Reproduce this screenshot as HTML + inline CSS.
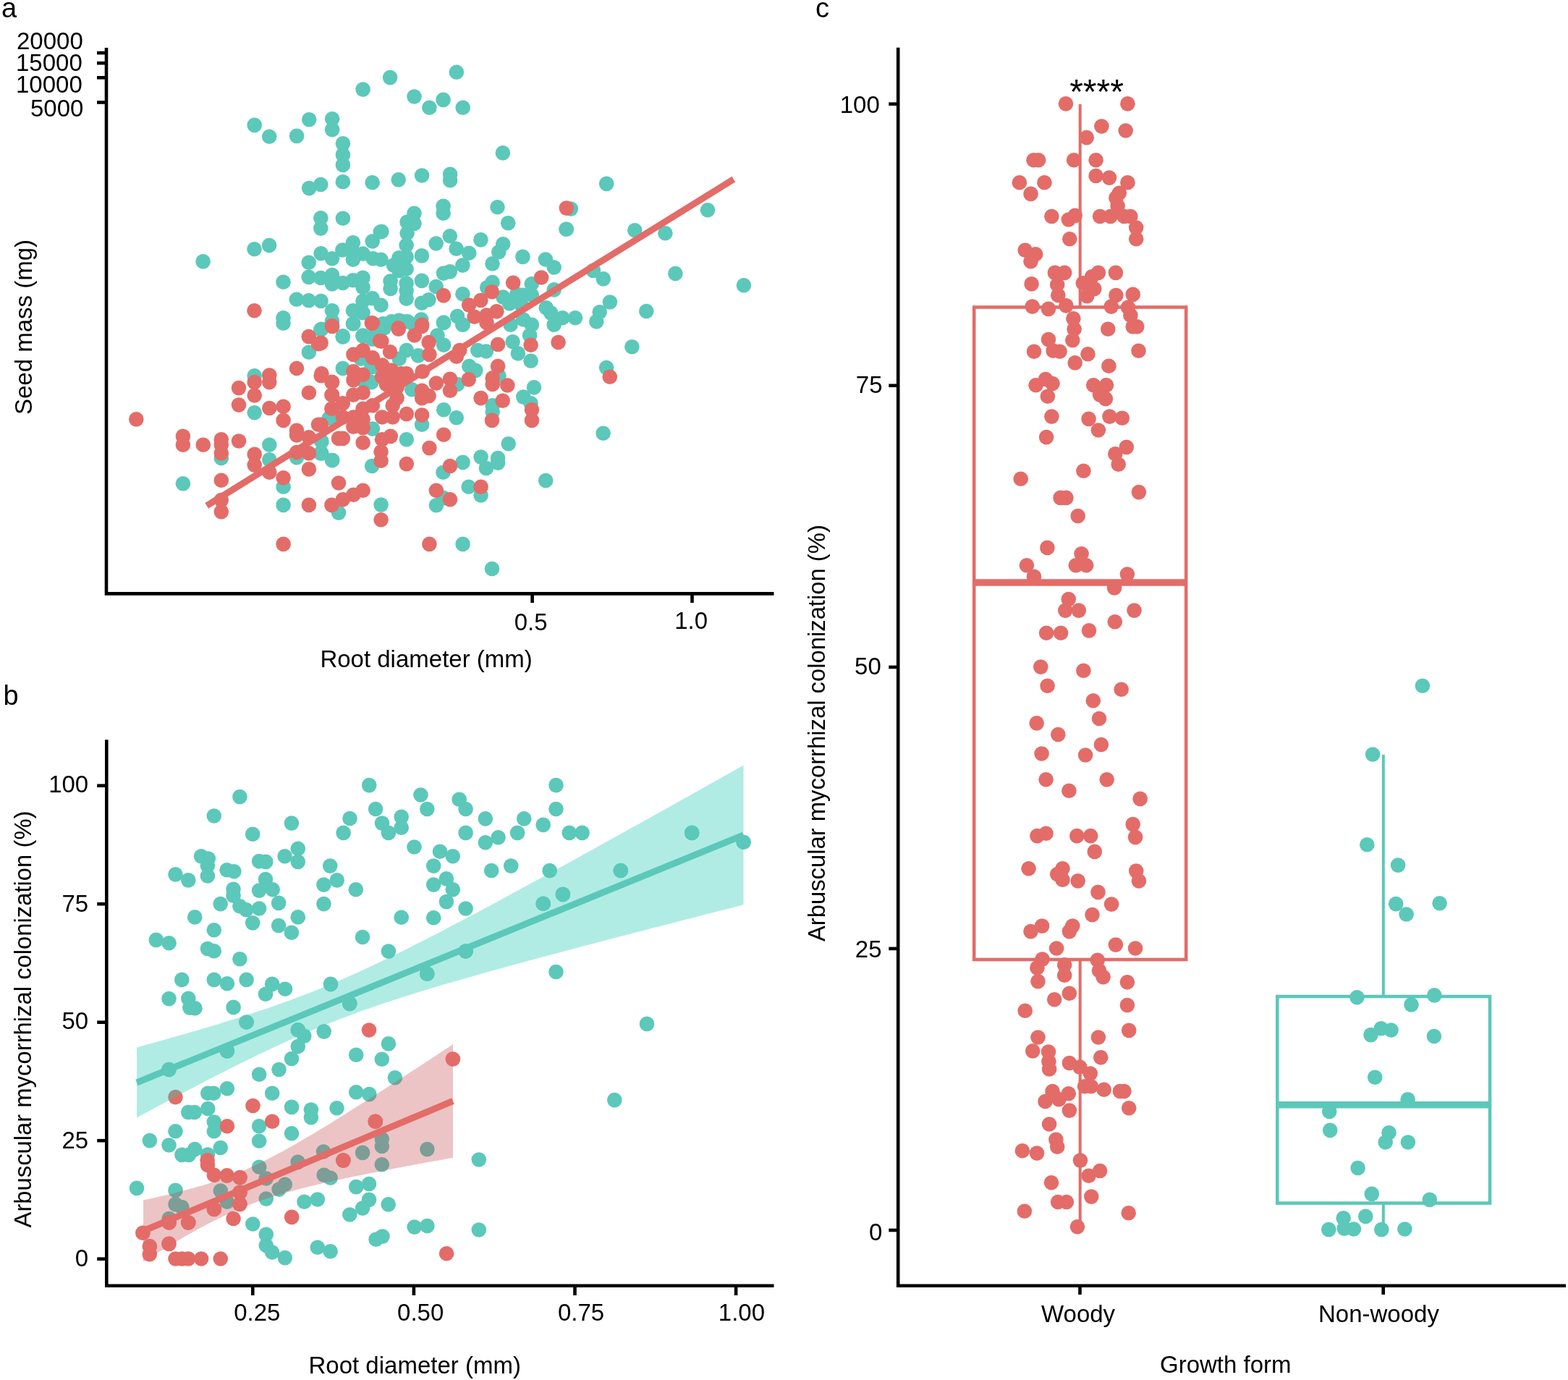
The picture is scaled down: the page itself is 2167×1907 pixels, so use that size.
<!DOCTYPE html>
<html><head><meta charset="utf-8"><title>Figure</title>
<style>html,body{margin:0;padding:0;background:#fff;overflow:hidden}svg{display:block}</style>
</head><body>
<svg width="2167" height="1907" viewBox="0 0 2167 1907">
<rect width="2167" height="1907" fill="#ffffff"/>
<circle cx="630.9" cy="99.8" r="10.3" fill="#5bc8ba"/>
<circle cx="539.1" cy="107.1" r="10.3" fill="#5bc8ba"/>
<circle cx="501.6" cy="123.6" r="10.3" fill="#5bc8ba"/>
<circle cx="572.5" cy="133.5" r="10.3" fill="#5bc8ba"/>
<circle cx="593.4" cy="148.7" r="10.3" fill="#5bc8ba"/>
<circle cx="612.6" cy="137.9" r="10.3" fill="#5bc8ba"/>
<circle cx="639.7" cy="148.7" r="10.3" fill="#5bc8ba"/>
<circle cx="351.7" cy="172.9" r="10.3" fill="#5bc8ba"/>
<circle cx="372.2" cy="188.8" r="10.3" fill="#5bc8ba"/>
<circle cx="410.1" cy="187.9" r="10.3" fill="#5bc8ba"/>
<circle cx="427.2" cy="165.2" r="10.3" fill="#5bc8ba"/>
<circle cx="459.1" cy="164.3" r="10.3" fill="#5bc8ba"/>
<circle cx="459.1" cy="179.1" r="10.3" fill="#5bc8ba"/>
<circle cx="473.9" cy="198.4" r="10.3" fill="#5bc8ba"/>
<circle cx="473.9" cy="213.9" r="10.3" fill="#5bc8ba"/>
<circle cx="473.9" cy="227.9" r="10.3" fill="#5bc8ba"/>
<circle cx="427.2" cy="260.1" r="10.3" fill="#5bc8ba"/>
<circle cx="443.3" cy="255.0" r="10.3" fill="#5bc8ba"/>
<circle cx="473.9" cy="251.3" r="10.3" fill="#5bc8ba"/>
<circle cx="514.6" cy="252.2" r="10.3" fill="#5bc8ba"/>
<circle cx="550.7" cy="248.4" r="10.3" fill="#5bc8ba"/>
<circle cx="583.1" cy="242.5" r="10.3" fill="#5bc8ba"/>
<circle cx="622.1" cy="240.7" r="10.3" fill="#5bc8ba"/>
<circle cx="622.1" cy="249.1" r="10.3" fill="#5bc8ba"/>
<circle cx="443.3" cy="301.3" r="10.3" fill="#5bc8ba"/>
<circle cx="443.3" cy="315.6" r="10.3" fill="#5bc8ba"/>
<circle cx="473.9" cy="301.7" r="10.3" fill="#5bc8ba"/>
<circle cx="612.6" cy="284.7" r="10.3" fill="#5bc8ba"/>
<circle cx="612.6" cy="294.7" r="10.3" fill="#5bc8ba"/>
<circle cx="572.5" cy="294.7" r="10.3" fill="#5bc8ba"/>
<circle cx="562.6" cy="306.8" r="10.3" fill="#5bc8ba"/>
<circle cx="572.5" cy="309.0" r="10.3" fill="#5bc8ba"/>
<circle cx="562.6" cy="322.2" r="10.3" fill="#5bc8ba"/>
<circle cx="527.4" cy="320.0" r="10.3" fill="#5bc8ba"/>
<circle cx="694.9" cy="211.4" r="10.3" fill="#5bc8ba"/>
<circle cx="838.2" cy="253.9" r="10.3" fill="#5bc8ba"/>
<circle cx="687.5" cy="286.2" r="10.3" fill="#5bc8ba"/>
<circle cx="702.2" cy="308.3" r="10.3" fill="#5bc8ba"/>
<circle cx="788.8" cy="288.6" r="10.3" fill="#5bc8ba"/>
<circle cx="782.8" cy="316.7" r="10.3" fill="#5bc8ba"/>
<circle cx="978.0" cy="290.2" r="10.3" fill="#5bc8ba"/>
<circle cx="877.3" cy="318.3" r="10.3" fill="#5bc8ba"/>
<circle cx="919.4" cy="322.3" r="10.3" fill="#5bc8ba"/>
<circle cx="280.6" cy="361.4" r="10.3" fill="#5bc8ba"/>
<circle cx="351.5" cy="344.3" r="10.3" fill="#5bc8ba"/>
<circle cx="372.1" cy="339.0" r="10.3" fill="#5bc8ba"/>
<circle cx="391.5" cy="389.8" r="10.3" fill="#5bc8ba"/>
<circle cx="426.7" cy="362.8" r="10.3" fill="#5bc8ba"/>
<circle cx="443.6" cy="350.3" r="10.3" fill="#5bc8ba"/>
<circle cx="459.0" cy="357.2" r="10.3" fill="#5bc8ba"/>
<circle cx="473.4" cy="345.5" r="10.3" fill="#5bc8ba"/>
<circle cx="487.9" cy="335.2" r="10.3" fill="#5bc8ba"/>
<circle cx="487.9" cy="348.4" r="10.3" fill="#5bc8ba"/>
<circle cx="487.9" cy="358.7" r="10.3" fill="#5bc8ba"/>
<circle cx="501.5" cy="350.6" r="10.3" fill="#5bc8ba"/>
<circle cx="514.7" cy="333.5" r="10.3" fill="#5bc8ba"/>
<circle cx="515.5" cy="357.2" r="10.3" fill="#5bc8ba"/>
<circle cx="526.5" cy="358.7" r="10.3" fill="#5bc8ba"/>
<circle cx="525.8" cy="320.5" r="10.3" fill="#5bc8ba"/>
<circle cx="426.7" cy="382.9" r="10.3" fill="#5bc8ba"/>
<circle cx="443.3" cy="384.0" r="10.3" fill="#5bc8ba"/>
<circle cx="459.0" cy="380.0" r="10.3" fill="#5bc8ba"/>
<circle cx="459.0" cy="392.5" r="10.3" fill="#5bc8ba"/>
<circle cx="473.7" cy="391.0" r="10.3" fill="#5bc8ba"/>
<circle cx="487.9" cy="387.3" r="10.3" fill="#5bc8ba"/>
<circle cx="501.5" cy="383.7" r="10.3" fill="#5bc8ba"/>
<circle cx="501.5" cy="396.9" r="10.3" fill="#5bc8ba"/>
<circle cx="409.8" cy="413.8" r="10.3" fill="#5bc8ba"/>
<circle cx="426.7" cy="415.2" r="10.3" fill="#5bc8ba"/>
<circle cx="443.6" cy="416.0" r="10.3" fill="#5bc8ba"/>
<circle cx="459.0" cy="429.2" r="10.3" fill="#5bc8ba"/>
<circle cx="501.5" cy="416.0" r="10.3" fill="#5bc8ba"/>
<circle cx="514.7" cy="412.3" r="10.3" fill="#5bc8ba"/>
<circle cx="526.5" cy="421.8" r="10.3" fill="#5bc8ba"/>
<circle cx="487.9" cy="429.2" r="10.3" fill="#5bc8ba"/>
<circle cx="501.5" cy="432.1" r="10.3" fill="#5bc8ba"/>
<circle cx="487.9" cy="447.5" r="10.3" fill="#5bc8ba"/>
<circle cx="391.5" cy="439.4" r="10.3" fill="#5bc8ba"/>
<circle cx="391.5" cy="446.8" r="10.3" fill="#5bc8ba"/>
<circle cx="459.0" cy="443.8" r="10.3" fill="#5bc8ba"/>
<circle cx="443.3" cy="455.6" r="10.3" fill="#5bc8ba"/>
<circle cx="473.7" cy="464.4" r="10.3" fill="#5bc8ba"/>
<circle cx="501.5" cy="464.4" r="10.3" fill="#5bc8ba"/>
<circle cx="514.7" cy="468.8" r="10.3" fill="#5bc8ba"/>
<circle cx="561.6" cy="338.7" r="10.3" fill="#5bc8ba"/>
<circle cx="561.6" cy="354.9" r="10.3" fill="#5bc8ba"/>
<circle cx="551.4" cy="356.3" r="10.3" fill="#5bc8ba"/>
<circle cx="544.0" cy="366.6" r="10.3" fill="#5bc8ba"/>
<circle cx="561.6" cy="371.7" r="10.3" fill="#5bc8ba"/>
<circle cx="551.4" cy="373.9" r="10.3" fill="#5bc8ba"/>
<circle cx="582.9" cy="353.4" r="10.3" fill="#5bc8ba"/>
<circle cx="602.7" cy="336.5" r="10.3" fill="#5bc8ba"/>
<circle cx="621.8" cy="326.2" r="10.3" fill="#5bc8ba"/>
<circle cx="630.6" cy="343.8" r="10.3" fill="#5bc8ba"/>
<circle cx="648.2" cy="349.7" r="10.3" fill="#5bc8ba"/>
<circle cx="639.4" cy="366.6" r="10.3" fill="#5bc8ba"/>
<circle cx="664.4" cy="331.4" r="10.3" fill="#5bc8ba"/>
<circle cx="695.2" cy="337.2" r="10.3" fill="#5bc8ba"/>
<circle cx="689.3" cy="348.3" r="10.3" fill="#5bc8ba"/>
<circle cx="680.5" cy="364.4" r="10.3" fill="#5bc8ba"/>
<circle cx="722.4" cy="354.9" r="10.3" fill="#5bc8ba"/>
<circle cx="782.5" cy="316.7" r="10.3" fill="#5bc8ba"/>
<circle cx="753.9" cy="358.5" r="10.3" fill="#5bc8ba"/>
<circle cx="765.7" cy="369.5" r="10.3" fill="#5bc8ba"/>
<circle cx="539.6" cy="388.6" r="10.3" fill="#5bc8ba"/>
<circle cx="539.6" cy="398.9" r="10.3" fill="#5bc8ba"/>
<circle cx="561.6" cy="391.6" r="10.3" fill="#5bc8ba"/>
<circle cx="561.6" cy="401.8" r="10.3" fill="#5bc8ba"/>
<circle cx="561.6" cy="412.8" r="10.3" fill="#5bc8ba"/>
<circle cx="582.9" cy="387.9" r="10.3" fill="#5bc8ba"/>
<circle cx="613.0" cy="377.6" r="10.3" fill="#5bc8ba"/>
<circle cx="621.8" cy="375.4" r="10.3" fill="#5bc8ba"/>
<circle cx="602.7" cy="396.0" r="10.3" fill="#5bc8ba"/>
<circle cx="639.4" cy="406.2" r="10.3" fill="#5bc8ba"/>
<circle cx="592.5" cy="414.3" r="10.3" fill="#5bc8ba"/>
<circle cx="582.9" cy="418.7" r="10.3" fill="#5bc8ba"/>
<circle cx="680.5" cy="390.1" r="10.3" fill="#5bc8ba"/>
<circle cx="673.2" cy="397.4" r="10.3" fill="#5bc8ba"/>
<circle cx="695.2" cy="410.6" r="10.3" fill="#5bc8ba"/>
<circle cx="714.3" cy="406.2" r="10.3" fill="#5bc8ba"/>
<circle cx="734.8" cy="392.3" r="10.3" fill="#5bc8ba"/>
<circle cx="723.1" cy="407.7" r="10.3" fill="#5bc8ba"/>
<circle cx="704.0" cy="419.4" r="10.3" fill="#5bc8ba"/>
<circle cx="720.2" cy="420.9" r="10.3" fill="#5bc8ba"/>
<circle cx="734.8" cy="407.7" r="10.3" fill="#5bc8ba"/>
<circle cx="765.7" cy="400.4" r="10.3" fill="#5bc8ba"/>
<circle cx="754.7" cy="425.3" r="10.3" fill="#5bc8ba"/>
<circle cx="761.3" cy="432.6" r="10.3" fill="#5bc8ba"/>
<circle cx="777.4" cy="439.3" r="10.3" fill="#5bc8ba"/>
<circle cx="795.0" cy="439.3" r="10.3" fill="#5bc8ba"/>
<circle cx="765.7" cy="448.8" r="10.3" fill="#5bc8ba"/>
<circle cx="734.8" cy="448.8" r="10.3" fill="#5bc8ba"/>
<circle cx="723.1" cy="441.5" r="10.3" fill="#5bc8ba"/>
<circle cx="705.5" cy="448.8" r="10.3" fill="#5bc8ba"/>
<circle cx="632.1" cy="437.1" r="10.3" fill="#5bc8ba"/>
<circle cx="639.4" cy="448.8" r="10.3" fill="#5bc8ba"/>
<circle cx="613.0" cy="445.9" r="10.3" fill="#5bc8ba"/>
<circle cx="529.4" cy="447.3" r="10.3" fill="#5bc8ba"/>
<circle cx="541.1" cy="444.4" r="10.3" fill="#5bc8ba"/>
<circle cx="551.4" cy="442.9" r="10.3" fill="#5bc8ba"/>
<circle cx="563.1" cy="444.4" r="10.3" fill="#5bc8ba"/>
<circle cx="582.2" cy="441.5" r="10.3" fill="#5bc8ba"/>
<circle cx="819.9" cy="373.9" r="10.3" fill="#5bc8ba"/>
<circle cx="833.8" cy="385.4" r="10.3" fill="#5bc8ba"/>
<circle cx="933.4" cy="378.0" r="10.3" fill="#5bc8ba"/>
<circle cx="1027.9" cy="394.2" r="10.3" fill="#5bc8ba"/>
<circle cx="842.9" cy="417.5" r="10.3" fill="#5bc8ba"/>
<circle cx="828.7" cy="431.2" r="10.3" fill="#5bc8ba"/>
<circle cx="824.3" cy="444.4" r="10.3" fill="#5bc8ba"/>
<circle cx="893.3" cy="430.0" r="10.3" fill="#5bc8ba"/>
<circle cx="426.9" cy="486.7" r="10.3" fill="#5bc8ba"/>
<circle cx="351.7" cy="519.3" r="10.3" fill="#5bc8ba"/>
<circle cx="351.7" cy="570.3" r="10.3" fill="#5bc8ba"/>
<circle cx="457.7" cy="576.5" r="10.3" fill="#5bc8ba"/>
<circle cx="443.7" cy="608.8" r="10.3" fill="#5bc8ba"/>
<circle cx="372.3" cy="614.7" r="10.3" fill="#5bc8ba"/>
<circle cx="444.4" cy="454.7" r="10.3" fill="#5bc8ba"/>
<circle cx="473.8" cy="465.7" r="10.3" fill="#5bc8ba"/>
<circle cx="488.4" cy="447.3" r="10.3" fill="#5bc8ba"/>
<circle cx="501.6" cy="463.5" r="10.3" fill="#5bc8ba"/>
<circle cx="519.3" cy="459.1" r="10.3" fill="#5bc8ba"/>
<circle cx="531.0" cy="453.2" r="10.3" fill="#5bc8ba"/>
<circle cx="557.4" cy="444.4" r="10.3" fill="#5bc8ba"/>
<circle cx="572.1" cy="448.8" r="10.3" fill="#5bc8ba"/>
<circle cx="604.4" cy="463.5" r="10.3" fill="#5bc8ba"/>
<circle cx="613.2" cy="445.9" r="10.3" fill="#5bc8ba"/>
<circle cx="639.6" cy="448.8" r="10.3" fill="#5bc8ba"/>
<circle cx="613.2" cy="476.7" r="10.3" fill="#5bc8ba"/>
<circle cx="660.2" cy="484.0" r="10.3" fill="#5bc8ba"/>
<circle cx="671.9" cy="485.5" r="10.3" fill="#5bc8ba"/>
<circle cx="708.6" cy="472.3" r="10.3" fill="#5bc8ba"/>
<circle cx="715.9" cy="488.4" r="10.3" fill="#5bc8ba"/>
<circle cx="732.1" cy="463.5" r="10.3" fill="#5bc8ba"/>
<circle cx="733.6" cy="498.7" r="10.3" fill="#5bc8ba"/>
<circle cx="473.8" cy="509.0" r="10.3" fill="#5bc8ba"/>
<circle cx="498.7" cy="495.8" r="10.3" fill="#5bc8ba"/>
<circle cx="513.4" cy="507.5" r="10.3" fill="#5bc8ba"/>
<circle cx="578.0" cy="491.4" r="10.3" fill="#5bc8ba"/>
<circle cx="561.8" cy="484.0" r="10.3" fill="#5bc8ba"/>
<circle cx="551.6" cy="495.8" r="10.3" fill="#5bc8ba"/>
<circle cx="501.6" cy="525.1" r="10.3" fill="#5bc8ba"/>
<circle cx="513.4" cy="528.1" r="10.3" fill="#5bc8ba"/>
<circle cx="569.2" cy="538.3" r="10.3" fill="#5bc8ba"/>
<circle cx="632.3" cy="531.0" r="10.3" fill="#5bc8ba"/>
<circle cx="648.4" cy="506.1" r="10.3" fill="#5bc8ba"/>
<circle cx="657.2" cy="511.9" r="10.3" fill="#5bc8ba"/>
<circle cx="689.5" cy="519.3" r="10.3" fill="#5bc8ba"/>
<circle cx="680.7" cy="560.4" r="10.3" fill="#5bc8ba"/>
<circle cx="680.7" cy="569.2" r="10.3" fill="#5bc8ba"/>
<circle cx="613.2" cy="566.2" r="10.3" fill="#5bc8ba"/>
<circle cx="630.8" cy="577.2" r="10.3" fill="#5bc8ba"/>
<circle cx="583.1" cy="586.8" r="10.3" fill="#5bc8ba"/>
<circle cx="561.8" cy="607.3" r="10.3" fill="#5bc8ba"/>
<circle cx="702.7" cy="613.2" r="10.3" fill="#5bc8ba"/>
<circle cx="723.3" cy="548.6" r="10.3" fill="#5bc8ba"/>
<circle cx="733.6" cy="557.4" r="10.3" fill="#5bc8ba"/>
<circle cx="738.0" cy="535.4" r="10.3" fill="#5bc8ba"/>
<circle cx="454.7" cy="578.0" r="10.3" fill="#5bc8ba"/>
<circle cx="514.9" cy="592.6" r="10.3" fill="#5bc8ba"/>
<circle cx="444.4" cy="610.3" r="10.3" fill="#5bc8ba"/>
<circle cx="873.4" cy="479.2" r="10.3" fill="#5bc8ba"/>
<circle cx="838.1" cy="508.0" r="10.3" fill="#5bc8ba"/>
<circle cx="833.6" cy="598.8" r="10.3" fill="#5bc8ba"/>
<circle cx="305.8" cy="633.0" r="10.3" fill="#5bc8ba"/>
<circle cx="372.3" cy="635.2" r="10.3" fill="#5bc8ba"/>
<circle cx="410.0" cy="632.3" r="10.3" fill="#5bc8ba"/>
<circle cx="443.0" cy="626.4" r="10.3" fill="#5bc8ba"/>
<circle cx="459.2" cy="636.0" r="10.3" fill="#5bc8ba"/>
<circle cx="391.6" cy="672.7" r="10.3" fill="#5bc8ba"/>
<circle cx="252.9" cy="668.3" r="10.3" fill="#5bc8ba"/>
<circle cx="391.6" cy="697.9" r="10.3" fill="#5bc8ba"/>
<circle cx="468.0" cy="708.6" r="10.3" fill="#5bc8ba"/>
<circle cx="444.4" cy="626.4" r="10.3" fill="#5bc8ba"/>
<circle cx="459.1" cy="636.0" r="10.3" fill="#5bc8ba"/>
<circle cx="514.1" cy="644.0" r="10.3" fill="#5bc8ba"/>
<circle cx="612.5" cy="652.8" r="10.3" fill="#5bc8ba"/>
<circle cx="639.6" cy="638.9" r="10.3" fill="#5bc8ba"/>
<circle cx="664.6" cy="631.6" r="10.3" fill="#5bc8ba"/>
<circle cx="688.1" cy="633.0" r="10.3" fill="#5bc8ba"/>
<circle cx="671.9" cy="647.0" r="10.3" fill="#5bc8ba"/>
<circle cx="688.1" cy="639.6" r="10.3" fill="#5bc8ba"/>
<circle cx="526.6" cy="697.6" r="10.3" fill="#5bc8ba"/>
<circle cx="602.9" cy="698.3" r="10.3" fill="#5bc8ba"/>
<circle cx="613.2" cy="688.1" r="10.3" fill="#5bc8ba"/>
<circle cx="647.7" cy="672.7" r="10.3" fill="#5bc8ba"/>
<circle cx="664.6" cy="684.4" r="10.3" fill="#5bc8ba"/>
<circle cx="639.6" cy="751.9" r="10.3" fill="#5bc8ba"/>
<circle cx="680.0" cy="786.0" r="10.3" fill="#5bc8ba"/>
<circle cx="754.2" cy="664.0" r="10.3" fill="#5bc8ba"/>
<circle cx="782.8" cy="287.6" r="10.3" fill="#e36c68"/>
<circle cx="351.5" cy="429.2" r="10.3" fill="#e36c68"/>
<circle cx="459.0" cy="450.4" r="10.3" fill="#e36c68"/>
<circle cx="426.7" cy="465.1" r="10.3" fill="#e36c68"/>
<circle cx="443.6" cy="473.9" r="10.3" fill="#e36c68"/>
<circle cx="514.7" cy="446.5" r="10.3" fill="#e36c68"/>
<circle cx="525.0" cy="471.0" r="10.3" fill="#e36c68"/>
<circle cx="613.0" cy="408.4" r="10.3" fill="#e36c68"/>
<circle cx="679.8" cy="403.3" r="10.3" fill="#e36c68"/>
<circle cx="664.4" cy="415.0" r="10.3" fill="#e36c68"/>
<circle cx="648.2" cy="421.6" r="10.3" fill="#e36c68"/>
<circle cx="686.4" cy="430.4" r="10.3" fill="#e36c68"/>
<circle cx="672.5" cy="435.6" r="10.3" fill="#e36c68"/>
<circle cx="655.6" cy="437.8" r="10.3" fill="#e36c68"/>
<circle cx="672.5" cy="445.9" r="10.3" fill="#e36c68"/>
<circle cx="709.2" cy="390.8" r="10.3" fill="#e36c68"/>
<circle cx="748.1" cy="383.5" r="10.3" fill="#e36c68"/>
<circle cx="513.9" cy="446.6" r="10.3" fill="#e36c68"/>
<circle cx="550.6" cy="453.2" r="10.3" fill="#e36c68"/>
<circle cx="582.9" cy="451.0" r="10.3" fill="#e36c68"/>
<circle cx="410.0" cy="509.0" r="10.3" fill="#e36c68"/>
<circle cx="443.7" cy="519.3" r="10.3" fill="#e36c68"/>
<circle cx="458.4" cy="528.1" r="10.3" fill="#e36c68"/>
<circle cx="458.4" cy="545.7" r="10.3" fill="#e36c68"/>
<circle cx="426.9" cy="542.7" r="10.3" fill="#e36c68"/>
<circle cx="330.0" cy="536.1" r="10.3" fill="#e36c68"/>
<circle cx="351.7" cy="528.1" r="10.3" fill="#e36c68"/>
<circle cx="372.3" cy="518.5" r="10.3" fill="#e36c68"/>
<circle cx="372.3" cy="528.1" r="10.3" fill="#e36c68"/>
<circle cx="351.7" cy="546.4" r="10.3" fill="#e36c68"/>
<circle cx="330.0" cy="559.6" r="10.3" fill="#e36c68"/>
<circle cx="372.3" cy="564.0" r="10.3" fill="#e36c68"/>
<circle cx="391.6" cy="561.8" r="10.3" fill="#e36c68"/>
<circle cx="391.6" cy="580.9" r="10.3" fill="#e36c68"/>
<circle cx="458.4" cy="564.8" r="10.3" fill="#e36c68"/>
<circle cx="443.7" cy="586.8" r="10.3" fill="#e36c68"/>
<circle cx="410.0" cy="594.9" r="10.3" fill="#e36c68"/>
<circle cx="410.0" cy="601.5" r="10.3" fill="#e36c68"/>
<circle cx="426.9" cy="604.4" r="10.3" fill="#e36c68"/>
<circle cx="188.3" cy="579.4" r="10.3" fill="#e36c68"/>
<circle cx="252.9" cy="602.9" r="10.3" fill="#e36c68"/>
<circle cx="252.9" cy="614.7" r="10.3" fill="#e36c68"/>
<circle cx="280.8" cy="614.7" r="10.3" fill="#e36c68"/>
<circle cx="305.8" cy="607.3" r="10.3" fill="#e36c68"/>
<circle cx="305.8" cy="614.7" r="10.3" fill="#e36c68"/>
<circle cx="330.0" cy="609.5" r="10.3" fill="#e36c68"/>
<circle cx="459.1" cy="451.0" r="10.3" fill="#e36c68"/>
<circle cx="514.1" cy="446.6" r="10.3" fill="#e36c68"/>
<circle cx="550.8" cy="454.7" r="10.3" fill="#e36c68"/>
<circle cx="583.1" cy="448.8" r="10.3" fill="#e36c68"/>
<circle cx="572.8" cy="463.5" r="10.3" fill="#e36c68"/>
<circle cx="592.6" cy="473.0" r="10.3" fill="#e36c68"/>
<circle cx="527.3" cy="471.6" r="10.3" fill="#e36c68"/>
<circle cx="539.1" cy="486.2" r="10.3" fill="#e36c68"/>
<circle cx="593.4" cy="489.9" r="10.3" fill="#e36c68"/>
<circle cx="440.0" cy="475.2" r="10.3" fill="#e36c68"/>
<circle cx="733.6" cy="476.7" r="10.3" fill="#e36c68"/>
<circle cx="688.1" cy="476.0" r="10.3" fill="#e36c68"/>
<circle cx="635.2" cy="484.0" r="10.3" fill="#e36c68"/>
<circle cx="630.8" cy="492.8" r="10.3" fill="#e36c68"/>
<circle cx="488.4" cy="489.9" r="10.3" fill="#e36c68"/>
<circle cx="501.6" cy="484.0" r="10.3" fill="#e36c68"/>
<circle cx="514.9" cy="494.3" r="10.3" fill="#e36c68"/>
<circle cx="528.1" cy="504.6" r="10.3" fill="#e36c68"/>
<circle cx="541.3" cy="511.9" r="10.3" fill="#e36c68"/>
<circle cx="561.8" cy="516.3" r="10.3" fill="#e36c68"/>
<circle cx="583.8" cy="513.4" r="10.3" fill="#e36c68"/>
<circle cx="533.9" cy="522.2" r="10.3" fill="#e36c68"/>
<circle cx="545.7" cy="528.1" r="10.3" fill="#e36c68"/>
<circle cx="528.1" cy="520.7" r="10.3" fill="#e36c68"/>
<circle cx="542.7" cy="522.2" r="10.3" fill="#e36c68"/>
<circle cx="554.5" cy="516.3" r="10.3" fill="#e36c68"/>
<circle cx="533.9" cy="531.0" r="10.3" fill="#e36c68"/>
<circle cx="548.6" cy="535.4" r="10.3" fill="#e36c68"/>
<circle cx="548.6" cy="550.1" r="10.3" fill="#e36c68"/>
<circle cx="488.4" cy="513.4" r="10.3" fill="#e36c68"/>
<circle cx="501.6" cy="517.8" r="10.3" fill="#e36c68"/>
<circle cx="488.4" cy="525.1" r="10.3" fill="#e36c68"/>
<circle cx="444.4" cy="516.3" r="10.3" fill="#e36c68"/>
<circle cx="459.1" cy="528.1" r="10.3" fill="#e36c68"/>
<circle cx="459.1" cy="545.7" r="10.3" fill="#e36c68"/>
<circle cx="583.1" cy="539.8" r="10.3" fill="#e36c68"/>
<circle cx="592.6" cy="547.1" r="10.3" fill="#e36c68"/>
<circle cx="583.1" cy="550.1" r="10.3" fill="#e36c68"/>
<circle cx="602.9" cy="529.5" r="10.3" fill="#e36c68"/>
<circle cx="622.0" cy="523.7" r="10.3" fill="#e36c68"/>
<circle cx="622.0" cy="539.8" r="10.3" fill="#e36c68"/>
<circle cx="647.7" cy="524.4" r="10.3" fill="#e36c68"/>
<circle cx="688.1" cy="506.1" r="10.3" fill="#e36c68"/>
<circle cx="680.7" cy="522.2" r="10.3" fill="#e36c68"/>
<circle cx="680.7" cy="531.0" r="10.3" fill="#e36c68"/>
<circle cx="701.3" cy="532.5" r="10.3" fill="#e36c68"/>
<circle cx="664.6" cy="550.1" r="10.3" fill="#e36c68"/>
<circle cx="694.7" cy="553.8" r="10.3" fill="#e36c68"/>
<circle cx="680.0" cy="580.9" r="10.3" fill="#e36c68"/>
<circle cx="583.1" cy="573.6" r="10.3" fill="#e36c68"/>
<circle cx="613.2" cy="600.7" r="10.3" fill="#e36c68"/>
<circle cx="593.4" cy="619.1" r="10.3" fill="#e36c68"/>
<circle cx="735.0" cy="566.2" r="10.3" fill="#e36c68"/>
<circle cx="735.0" cy="580.9" r="10.3" fill="#e36c68"/>
<circle cx="459.1" cy="564.8" r="10.3" fill="#e36c68"/>
<circle cx="473.8" cy="557.4" r="10.3" fill="#e36c68"/>
<circle cx="488.4" cy="545.7" r="10.3" fill="#e36c68"/>
<circle cx="501.6" cy="542.7" r="10.3" fill="#e36c68"/>
<circle cx="514.9" cy="560.4" r="10.3" fill="#e36c68"/>
<circle cx="501.6" cy="564.8" r="10.3" fill="#e36c68"/>
<circle cx="473.8" cy="576.5" r="10.3" fill="#e36c68"/>
<circle cx="488.4" cy="576.5" r="10.3" fill="#e36c68"/>
<circle cx="501.6" cy="579.4" r="10.3" fill="#e36c68"/>
<circle cx="488.4" cy="589.7" r="10.3" fill="#e36c68"/>
<circle cx="501.6" cy="591.2" r="10.3" fill="#e36c68"/>
<circle cx="473.8" cy="605.9" r="10.3" fill="#e36c68"/>
<circle cx="501.6" cy="611.7" r="10.3" fill="#e36c68"/>
<circle cx="528.1" cy="607.3" r="10.3" fill="#e36c68"/>
<circle cx="539.8" cy="602.9" r="10.3" fill="#e36c68"/>
<circle cx="528.1" cy="576.5" r="10.3" fill="#e36c68"/>
<circle cx="542.7" cy="576.5" r="10.3" fill="#e36c68"/>
<circle cx="561.8" cy="572.1" r="10.3" fill="#e36c68"/>
<circle cx="542.7" cy="560.4" r="10.3" fill="#e36c68"/>
<circle cx="440.0" cy="586.8" r="10.3" fill="#e36c68"/>
<circle cx="771.6" cy="473.0" r="10.3" fill="#e36c68"/>
<circle cx="842.8" cy="520.7" r="10.3" fill="#e36c68"/>
<circle cx="305.8" cy="626.4" r="10.3" fill="#e36c68"/>
<circle cx="351.7" cy="627.9" r="10.3" fill="#e36c68"/>
<circle cx="351.7" cy="642.6" r="10.3" fill="#e36c68"/>
<circle cx="410.0" cy="625.0" r="10.3" fill="#e36c68"/>
<circle cx="426.9" cy="626.4" r="10.3" fill="#e36c68"/>
<circle cx="426.9" cy="648.4" r="10.3" fill="#e36c68"/>
<circle cx="372.3" cy="652.8" r="10.3" fill="#e36c68"/>
<circle cx="391.6" cy="660.2" r="10.3" fill="#e36c68"/>
<circle cx="305.8" cy="663.8" r="10.3" fill="#e36c68"/>
<circle cx="305.8" cy="691.0" r="10.3" fill="#e36c68"/>
<circle cx="305.8" cy="707.1" r="10.3" fill="#e36c68"/>
<circle cx="426.9" cy="697.9" r="10.3" fill="#e36c68"/>
<circle cx="458.4" cy="697.9" r="10.3" fill="#e36c68"/>
<circle cx="468.0" cy="667.5" r="10.3" fill="#e36c68"/>
<circle cx="468.0" cy="605.9" r="10.3" fill="#e36c68"/>
<circle cx="391.6" cy="751.9" r="10.3" fill="#e36c68"/>
<circle cx="526.6" cy="624.2" r="10.3" fill="#e36c68"/>
<circle cx="526.6" cy="636.7" r="10.3" fill="#e36c68"/>
<circle cx="561.8" cy="641.1" r="10.3" fill="#e36c68"/>
<circle cx="622.0" cy="644.0" r="10.3" fill="#e36c68"/>
<circle cx="501.6" cy="677.8" r="10.3" fill="#e36c68"/>
<circle cx="488.4" cy="683.7" r="10.3" fill="#e36c68"/>
<circle cx="473.8" cy="690.3" r="10.3" fill="#e36c68"/>
<circle cx="526.6" cy="718.2" r="10.3" fill="#e36c68"/>
<circle cx="602.9" cy="677.8" r="10.3" fill="#e36c68"/>
<circle cx="622.0" cy="690.3" r="10.3" fill="#e36c68"/>
<circle cx="664.6" cy="672.7" r="10.3" fill="#e36c68"/>
<circle cx="593.4" cy="751.9" r="10.3" fill="#e36c68"/>
<line x1="285.7" y1="698.8" x2="1013.9" y2="247.7" stroke="#e36c68" stroke-width="9"/>
<g stroke="#000" stroke-width="4.6" fill="none">
<path d="M147,66 V822.2 M144.8,820.4 H1069.5"/>
<path d="M134,73.1 H147"/>
<path d="M134,87.2 H147"/>
<path d="M134,107.3 H147"/>
<path d="M134,141.5 H147"/>
<path d="M735.6,820 V833"/>
<path d="M956.5,820 V833"/>
</g>
<g font-family="Liberation Sans, Arial, sans-serif" font-size="33" fill="#000">
<text x="23" y="68.3">20000</text>
<text x="22" y="97.7">15000</text>
<text x="22" y="128">10000</text>
<text x="42" y="160.8">5000</text>
<text x="733.6" y="871.2" text-anchor="middle">0.5</text>
<text x="955.1" y="868.7" text-anchor="middle">1.0</text>
<text x="442.4" y="921.7">Root diameter (mm)</text>
<text transform="translate(43.8,573) rotate(-90)">Seed mass (mg)</text>
<text x="2.1" y="23.5" font-size="38">a</text>
</g>
<circle cx="331.4" cy="1101.1" r="10.3" fill="#5bc8ba"/>
<circle cx="295.8" cy="1127.5" r="10.3" fill="#5bc8ba"/>
<circle cx="402.9" cy="1137.6" r="10.3" fill="#5bc8ba"/>
<circle cx="483.5" cy="1131.0" r="10.3" fill="#5bc8ba"/>
<circle cx="474.6" cy="1150.9" r="10.3" fill="#5bc8ba"/>
<circle cx="349.2" cy="1152.7" r="10.3" fill="#5bc8ba"/>
<circle cx="278.0" cy="1183.3" r="10.3" fill="#5bc8ba"/>
<circle cx="287.8" cy="1186.5" r="10.3" fill="#5bc8ba"/>
<circle cx="286.9" cy="1196.3" r="10.3" fill="#5bc8ba"/>
<circle cx="286.9" cy="1210.5" r="10.3" fill="#5bc8ba"/>
<circle cx="242.5" cy="1208.4" r="10.3" fill="#5bc8ba"/>
<circle cx="260.3" cy="1216.4" r="10.3" fill="#5bc8ba"/>
<circle cx="313.6" cy="1202.2" r="10.3" fill="#5bc8ba"/>
<circle cx="323.4" cy="1204.3" r="10.3" fill="#5bc8ba"/>
<circle cx="358.1" cy="1190.1" r="10.3" fill="#5bc8ba"/>
<circle cx="367.3" cy="1190.9" r="10.3" fill="#5bc8ba"/>
<circle cx="393.6" cy="1183.3" r="10.3" fill="#5bc8ba"/>
<circle cx="411.8" cy="1172.8" r="10.3" fill="#5bc8ba"/>
<circle cx="411.8" cy="1190.9" r="10.3" fill="#5bc8ba"/>
<circle cx="456.2" cy="1196.6" r="10.3" fill="#5bc8ba"/>
<circle cx="367.0" cy="1215.0" r="10.3" fill="#5bc8ba"/>
<circle cx="358.1" cy="1230.6" r="10.3" fill="#5bc8ba"/>
<circle cx="376.7" cy="1229.2" r="10.3" fill="#5bc8ba"/>
<circle cx="322.5" cy="1228.8" r="10.3" fill="#5bc8ba"/>
<circle cx="322.5" cy="1237.7" r="10.3" fill="#5bc8ba"/>
<circle cx="447.4" cy="1222.6" r="10.3" fill="#5bc8ba"/>
<circle cx="465.7" cy="1216.4" r="10.3" fill="#5bc8ba"/>
<circle cx="304.7" cy="1249.1" r="10.3" fill="#5bc8ba"/>
<circle cx="331.4" cy="1252.3" r="10.3" fill="#5bc8ba"/>
<circle cx="340.3" cy="1257.3" r="10.3" fill="#5bc8ba"/>
<circle cx="358.1" cy="1255.5" r="10.3" fill="#5bc8ba"/>
<circle cx="385.1" cy="1247.9" r="10.3" fill="#5bc8ba"/>
<circle cx="447.4" cy="1249.1" r="10.3" fill="#5bc8ba"/>
<circle cx="269.2" cy="1267.4" r="10.3" fill="#5bc8ba"/>
<circle cx="411.8" cy="1267.4" r="10.3" fill="#5bc8ba"/>
<circle cx="349.2" cy="1275.4" r="10.3" fill="#5bc8ba"/>
<circle cx="295.8" cy="1285.2" r="10.3" fill="#5bc8ba"/>
<circle cx="385.1" cy="1279.0" r="10.3" fill="#5bc8ba"/>
<circle cx="402.9" cy="1288.8" r="10.3" fill="#5bc8ba"/>
<circle cx="215.8" cy="1298.9" r="10.3" fill="#5bc8ba"/>
<circle cx="233.6" cy="1303.3" r="10.3" fill="#5bc8ba"/>
<circle cx="286.9" cy="1311.0" r="10.3" fill="#5bc8ba"/>
<circle cx="295.8" cy="1314.2" r="10.3" fill="#5bc8ba"/>
<circle cx="331.4" cy="1325.2" r="10.3" fill="#5bc8ba"/>
<circle cx="501.0" cy="1295.0" r="10.3" fill="#5bc8ba"/>
<circle cx="510.2" cy="1085.1" r="10.3" fill="#5bc8ba"/>
<circle cx="519.1" cy="1118.0" r="10.3" fill="#5bc8ba"/>
<circle cx="581.4" cy="1098.5" r="10.3" fill="#5bc8ba"/>
<circle cx="590.3" cy="1118.0" r="10.3" fill="#5bc8ba"/>
<circle cx="528.0" cy="1137.6" r="10.3" fill="#5bc8ba"/>
<circle cx="536.9" cy="1150.9" r="10.3" fill="#5bc8ba"/>
<circle cx="554.7" cy="1128.7" r="10.3" fill="#5bc8ba"/>
<circle cx="554.7" cy="1143.8" r="10.3" fill="#5bc8ba"/>
<circle cx="634.7" cy="1104.7" r="10.3" fill="#5bc8ba"/>
<circle cx="643.6" cy="1118.0" r="10.3" fill="#5bc8ba"/>
<circle cx="670.8" cy="1131.4" r="10.3" fill="#5bc8ba"/>
<circle cx="643.6" cy="1150.9" r="10.3" fill="#5bc8ba"/>
<circle cx="670.8" cy="1164.3" r="10.3" fill="#5bc8ba"/>
<circle cx="688.6" cy="1157.2" r="10.3" fill="#5bc8ba"/>
<circle cx="715.1" cy="1150.9" r="10.3" fill="#5bc8ba"/>
<circle cx="724.2" cy="1131.4" r="10.3" fill="#5bc8ba"/>
<circle cx="750.7" cy="1139.9" r="10.3" fill="#5bc8ba"/>
<circle cx="768.5" cy="1085.1" r="10.3" fill="#5bc8ba"/>
<circle cx="768.5" cy="1118.0" r="10.3" fill="#5bc8ba"/>
<circle cx="786.8" cy="1150.9" r="10.3" fill="#5bc8ba"/>
<circle cx="804.6" cy="1150.9" r="10.3" fill="#5bc8ba"/>
<circle cx="572.5" cy="1170.5" r="10.3" fill="#5bc8ba"/>
<circle cx="608.0" cy="1176.7" r="10.3" fill="#5bc8ba"/>
<circle cx="625.8" cy="1183.3" r="10.3" fill="#5bc8ba"/>
<circle cx="599.2" cy="1196.6" r="10.3" fill="#5bc8ba"/>
<circle cx="679.2" cy="1203.0" r="10.3" fill="#5bc8ba"/>
<circle cx="706.2" cy="1196.6" r="10.3" fill="#5bc8ba"/>
<circle cx="759.6" cy="1203.0" r="10.3" fill="#5bc8ba"/>
<circle cx="616.9" cy="1214.4" r="10.3" fill="#5bc8ba"/>
<circle cx="599.2" cy="1222.6" r="10.3" fill="#5bc8ba"/>
<circle cx="625.8" cy="1229.2" r="10.3" fill="#5bc8ba"/>
<circle cx="616.9" cy="1246.1" r="10.3" fill="#5bc8ba"/>
<circle cx="643.6" cy="1255.5" r="10.3" fill="#5bc8ba"/>
<circle cx="554.7" cy="1267.8" r="10.3" fill="#5bc8ba"/>
<circle cx="599.2" cy="1268.3" r="10.3" fill="#5bc8ba"/>
<circle cx="750.7" cy="1248.7" r="10.3" fill="#5bc8ba"/>
<circle cx="777.9" cy="1235.9" r="10.3" fill="#5bc8ba"/>
<circle cx="536.9" cy="1314.5" r="10.3" fill="#5bc8ba"/>
<circle cx="643.6" cy="1314.5" r="10.3" fill="#5bc8ba"/>
<circle cx="590.3" cy="1345.7" r="10.3" fill="#5bc8ba"/>
<circle cx="768.5" cy="1343.0" r="10.3" fill="#5bc8ba"/>
<circle cx="956.2" cy="1150.9" r="10.3" fill="#5bc8ba"/>
<circle cx="857.8" cy="1203.0" r="10.3" fill="#5bc8ba"/>
<circle cx="1027.7" cy="1163.7" r="10.3" fill="#5bc8ba"/>
<circle cx="251.3" cy="1353.9" r="10.3" fill="#5bc8ba"/>
<circle cx="295.8" cy="1353.9" r="10.3" fill="#5bc8ba"/>
<circle cx="313.9" cy="1359.2" r="10.3" fill="#5bc8ba"/>
<circle cx="340.6" cy="1353.9" r="10.3" fill="#5bc8ba"/>
<circle cx="376.2" cy="1359.9" r="10.3" fill="#5bc8ba"/>
<circle cx="367.0" cy="1373.8" r="10.3" fill="#5bc8ba"/>
<circle cx="394.0" cy="1366.7" r="10.3" fill="#5bc8ba"/>
<circle cx="233.5" cy="1380.1" r="10.3" fill="#5bc8ba"/>
<circle cx="260.3" cy="1379.8" r="10.3" fill="#5bc8ba"/>
<circle cx="262.4" cy="1392.6" r="10.3" fill="#5bc8ba"/>
<circle cx="269.5" cy="1393.3" r="10.3" fill="#5bc8ba"/>
<circle cx="322.6" cy="1391.9" r="10.3" fill="#5bc8ba"/>
<circle cx="340.6" cy="1412.5" r="10.3" fill="#5bc8ba"/>
<circle cx="411.8" cy="1423.2" r="10.3" fill="#5bc8ba"/>
<circle cx="420.3" cy="1431.7" r="10.3" fill="#5bc8ba"/>
<circle cx="411.8" cy="1446.0" r="10.3" fill="#5bc8ba"/>
<circle cx="403.0" cy="1463.0" r="10.3" fill="#5bc8ba"/>
<circle cx="385.5" cy="1478.0" r="10.3" fill="#5bc8ba"/>
<circle cx="358.1" cy="1484.8" r="10.3" fill="#5bc8ba"/>
<circle cx="313.9" cy="1452.4" r="10.3" fill="#5bc8ba"/>
<circle cx="233.5" cy="1478.0" r="10.3" fill="#5bc8ba"/>
<circle cx="287.3" cy="1510.7" r="10.3" fill="#5bc8ba"/>
<circle cx="295.1" cy="1510.7" r="10.3" fill="#5bc8ba"/>
<circle cx="313.9" cy="1504.3" r="10.3" fill="#5bc8ba"/>
<circle cx="376.2" cy="1510.7" r="10.3" fill="#5bc8ba"/>
<circle cx="403.0" cy="1529.9" r="10.3" fill="#5bc8ba"/>
<circle cx="287.3" cy="1532.0" r="10.3" fill="#5bc8ba"/>
<circle cx="260.3" cy="1537.0" r="10.3" fill="#5bc8ba"/>
<circle cx="268.8" cy="1537.0" r="10.3" fill="#5bc8ba"/>
<circle cx="295.8" cy="1550.5" r="10.3" fill="#5bc8ba"/>
<circle cx="295.8" cy="1563.3" r="10.3" fill="#5bc8ba"/>
<circle cx="358.1" cy="1556.2" r="10.3" fill="#5bc8ba"/>
<circle cx="242.5" cy="1563.3" r="10.3" fill="#5bc8ba"/>
<circle cx="403.0" cy="1566.2" r="10.3" fill="#5bc8ba"/>
<circle cx="206.9" cy="1576.1" r="10.3" fill="#5bc8ba"/>
<circle cx="233.5" cy="1582.5" r="10.3" fill="#5bc8ba"/>
<circle cx="358.1" cy="1576.8" r="10.3" fill="#5bc8ba"/>
<circle cx="251.4" cy="1595.9" r="10.3" fill="#5bc8ba"/>
<circle cx="261.0" cy="1595.9" r="10.3" fill="#5bc8ba"/>
<circle cx="269.2" cy="1588.1" r="10.3" fill="#5bc8ba"/>
<circle cx="287.0" cy="1595.6" r="10.3" fill="#5bc8ba"/>
<circle cx="304.8" cy="1586.0" r="10.3" fill="#5bc8ba"/>
<circle cx="189.0" cy="1641.9" r="10.3" fill="#5bc8ba"/>
<circle cx="242.5" cy="1644.9" r="10.3" fill="#5bc8ba"/>
<circle cx="242.5" cy="1664.1" r="10.3" fill="#5bc8ba"/>
<circle cx="251.4" cy="1668.2" r="10.3" fill="#5bc8ba"/>
<circle cx="304.8" cy="1645.6" r="10.3" fill="#5bc8ba"/>
<circle cx="313.7" cy="1660.7" r="10.3" fill="#5bc8ba"/>
<circle cx="358.2" cy="1612.7" r="10.3" fill="#5bc8ba"/>
<circle cx="367.8" cy="1628.5" r="10.3" fill="#5bc8ba"/>
<circle cx="411.6" cy="1605.9" r="10.3" fill="#5bc8ba"/>
<circle cx="393.8" cy="1636.7" r="10.3" fill="#5bc8ba"/>
<circle cx="385.6" cy="1643.6" r="10.3" fill="#5bc8ba"/>
<circle cx="367.8" cy="1656.6" r="10.3" fill="#5bc8ba"/>
<circle cx="420.5" cy="1660.7" r="10.3" fill="#5bc8ba"/>
<circle cx="233.6" cy="1684.0" r="10.3" fill="#5bc8ba"/>
<circle cx="349.3" cy="1691.5" r="10.3" fill="#5bc8ba"/>
<circle cx="367.8" cy="1705.9" r="10.3" fill="#5bc8ba"/>
<circle cx="367.8" cy="1721.0" r="10.3" fill="#5bc8ba"/>
<circle cx="376.0" cy="1730.5" r="10.3" fill="#5bc8ba"/>
<circle cx="393.8" cy="1738.1" r="10.3" fill="#5bc8ba"/>
<circle cx="457.0" cy="1359.9" r="10.3" fill="#5bc8ba"/>
<circle cx="483.3" cy="1386.9" r="10.3" fill="#5bc8ba"/>
<circle cx="447.7" cy="1425.6" r="10.3" fill="#5bc8ba"/>
<circle cx="536.9" cy="1442.4" r="10.3" fill="#5bc8ba"/>
<circle cx="492.2" cy="1457.8" r="10.3" fill="#5bc8ba"/>
<circle cx="527.8" cy="1463.7" r="10.3" fill="#5bc8ba"/>
<circle cx="545.9" cy="1489.3" r="10.3" fill="#5bc8ba"/>
<circle cx="492.2" cy="1509.3" r="10.3" fill="#5bc8ba"/>
<circle cx="510.3" cy="1512.1" r="10.3" fill="#5bc8ba"/>
<circle cx="465.5" cy="1531.3" r="10.3" fill="#5bc8ba"/>
<circle cx="429.9" cy="1533.5" r="10.3" fill="#5bc8ba"/>
<circle cx="429.9" cy="1544.1" r="10.3" fill="#5bc8ba"/>
<circle cx="527.8" cy="1574.0" r="10.3" fill="#5bc8ba"/>
<circle cx="447.0" cy="1591.5" r="10.3" fill="#5bc8ba"/>
<circle cx="501.1" cy="1592.9" r="10.3" fill="#5bc8ba"/>
<circle cx="527.8" cy="1584.0" r="10.3" fill="#5bc8ba"/>
<circle cx="527.8" cy="1609.3" r="10.3" fill="#5bc8ba"/>
<circle cx="590.4" cy="1588.1" r="10.3" fill="#5bc8ba"/>
<circle cx="447.7" cy="1623.7" r="10.3" fill="#5bc8ba"/>
<circle cx="456.6" cy="1627.8" r="10.3" fill="#5bc8ba"/>
<circle cx="492.2" cy="1640.1" r="10.3" fill="#5bc8ba"/>
<circle cx="510.0" cy="1636.0" r="10.3" fill="#5bc8ba"/>
<circle cx="438.8" cy="1657.5" r="10.3" fill="#5bc8ba"/>
<circle cx="510.0" cy="1657.9" r="10.3" fill="#5bc8ba"/>
<circle cx="501.1" cy="1669.6" r="10.3" fill="#5bc8ba"/>
<circle cx="483.3" cy="1678.5" r="10.3" fill="#5bc8ba"/>
<circle cx="536.7" cy="1664.4" r="10.3" fill="#5bc8ba"/>
<circle cx="661.8" cy="1602.5" r="10.3" fill="#5bc8ba"/>
<circle cx="572.7" cy="1695.6" r="10.3" fill="#5bc8ba"/>
<circle cx="590.4" cy="1694.0" r="10.3" fill="#5bc8ba"/>
<circle cx="661.8" cy="1699.5" r="10.3" fill="#5bc8ba"/>
<circle cx="519.6" cy="1712.7" r="10.3" fill="#5bc8ba"/>
<circle cx="528.5" cy="1708.6" r="10.3" fill="#5bc8ba"/>
<circle cx="438.8" cy="1723.7" r="10.3" fill="#5bc8ba"/>
<circle cx="456.6" cy="1729.2" r="10.3" fill="#5bc8ba"/>
<circle cx="894.0" cy="1414.9" r="10.3" fill="#5bc8ba"/>
<circle cx="849.3" cy="1520.1" r="10.3" fill="#5bc8ba"/>
<circle cx="491.8" cy="1229.2" r="10.3" fill="#5bc8ba"/>
<circle cx="242.5" cy="1516.1" r="10.3" fill="#e36c68"/>
<circle cx="349.5" cy="1528.0" r="10.3" fill="#e36c68"/>
<circle cx="313.9" cy="1556.2" r="10.3" fill="#e36c68"/>
<circle cx="376.2" cy="1549.8" r="10.3" fill="#e36c68"/>
<circle cx="286.6" cy="1603.2" r="10.3" fill="#e36c68"/>
<circle cx="287.0" cy="1610.0" r="10.3" fill="#e36c68"/>
<circle cx="295.9" cy="1623.7" r="10.3" fill="#e36c68"/>
<circle cx="313.7" cy="1624.4" r="10.3" fill="#e36c68"/>
<circle cx="331.5" cy="1627.1" r="10.3" fill="#e36c68"/>
<circle cx="331.5" cy="1647.7" r="10.3" fill="#e36c68"/>
<circle cx="331.5" cy="1664.1" r="10.3" fill="#e36c68"/>
<circle cx="295.9" cy="1671.0" r="10.3" fill="#e36c68"/>
<circle cx="322.6" cy="1684.0" r="10.3" fill="#e36c68"/>
<circle cx="403.2" cy="1681.9" r="10.3" fill="#e36c68"/>
<circle cx="197.3" cy="1703.8" r="10.3" fill="#e36c68"/>
<circle cx="206.8" cy="1722.3" r="10.3" fill="#e36c68"/>
<circle cx="206.8" cy="1733.3" r="10.3" fill="#e36c68"/>
<circle cx="233.6" cy="1718.9" r="10.3" fill="#e36c68"/>
<circle cx="233.6" cy="1689.5" r="10.3" fill="#e36c68"/>
<circle cx="260.3" cy="1689.5" r="10.3" fill="#e36c68"/>
<circle cx="242.5" cy="1739.5" r="10.3" fill="#e36c68"/>
<circle cx="251.4" cy="1739.5" r="10.3" fill="#e36c68"/>
<circle cx="260.3" cy="1739.5" r="10.3" fill="#e36c68"/>
<circle cx="278.1" cy="1739.5" r="10.3" fill="#e36c68"/>
<circle cx="304.8" cy="1739.5" r="10.3" fill="#e36c68"/>
<circle cx="510.0" cy="1423.5" r="10.3" fill="#e36c68"/>
<circle cx="626.0" cy="1463.5" r="10.3" fill="#e36c68"/>
<circle cx="518.8" cy="1549.8" r="10.3" fill="#e36c68"/>
<circle cx="474.4" cy="1603.6" r="10.3" fill="#e36c68"/>
<circle cx="617.1" cy="1732.3" r="10.3" fill="#e36c68"/>
<defs><clipPath id="ct"><path d="M189.0,1447.4 L203.0,1443.6 L216.9,1439.7 L230.9,1435.8 L244.9,1431.8 L258.9,1427.8 L272.9,1423.7 L286.8,1419.6 L300.8,1415.4 L314.8,1411.1 L328.8,1406.7 L342.7,1402.2 L356.7,1397.6 L370.7,1392.9 L384.6,1388.0 L398.6,1383.0 L412.6,1377.8 L426.6,1372.4 L440.6,1366.9 L454.5,1361.2 L468.5,1355.2 L482.5,1349.1 L496.4,1342.9 L510.4,1336.4 L524.4,1329.8 L538.4,1323.1 L552.4,1316.3 L566.3,1309.3 L580.3,1302.3 L594.3,1295.1 L608.2,1287.9 L622.2,1280.6 L636.2,1273.3 L650.2,1265.9 L664.1,1258.4 L678.1,1250.9 L692.1,1243.4 L706.1,1235.8 L720.0,1228.3 L734.0,1220.6 L748.0,1213.0 L762.0,1205.3 L776.0,1197.7 L789.9,1190.0 L803.9,1182.3 L817.9,1174.5 L831.9,1166.8 L845.8,1159.1 L859.8,1151.3 L873.8,1143.5 L887.8,1135.8 L901.7,1128.0 L915.7,1120.2 L929.7,1112.4 L943.6,1104.6 L957.6,1096.8 L971.6,1089.0 L985.6,1081.1 L999.5,1073.3 L1013.5,1065.5 L1027.5,1057.6 L1027.5,1250.3 L1013.5,1253.9 L999.5,1257.4 L985.6,1261.0 L971.6,1264.6 L957.6,1268.2 L943.6,1271.8 L929.7,1275.4 L915.7,1279.0 L901.7,1282.6 L887.8,1286.2 L873.8,1289.8 L859.8,1293.5 L845.8,1297.1 L831.9,1300.8 L817.9,1304.4 L803.9,1308.1 L789.9,1311.8 L776.0,1315.5 L762.0,1319.2 L748.0,1323.0 L734.0,1326.7 L720.0,1330.5 L706.1,1334.3 L692.1,1338.2 L678.1,1342.0 L664.1,1346.0 L650.2,1349.9 L636.2,1353.9 L622.2,1358.0 L608.2,1362.1 L594.3,1366.3 L580.3,1370.5 L566.3,1374.9 L552.4,1379.3 L538.4,1383.9 L524.4,1388.5 L510.4,1393.4 L496.4,1398.3 L482.5,1403.4 L468.5,1408.7 L454.5,1414.2 L440.6,1419.9 L426.6,1425.7 L412.6,1431.8 L398.6,1438.0 L384.6,1444.4 L370.7,1450.9 L356.7,1457.6 L342.7,1464.4 L328.8,1471.3 L314.8,1478.3 L300.8,1485.4 L286.8,1492.6 L272.9,1499.9 L258.9,1507.2 L244.9,1514.6 L230.9,1522.0 L216.9,1529.5 L203.0,1537.0 L189.0,1544.6 Z"/></clipPath><clipPath id="cr"><path d="M198.0,1658.6 L205.1,1657.0 L212.3,1655.4 L219.4,1653.8 L226.5,1652.2 L233.7,1650.5 L240.8,1648.7 L247.9,1646.9 L255.1,1645.1 L262.2,1643.1 L269.3,1641.1 L276.5,1639.1 L283.6,1636.9 L290.7,1634.7 L297.9,1632.3 L305.0,1629.9 L312.1,1627.3 L319.3,1624.6 L326.4,1621.8 L333.5,1618.9 L340.7,1615.8 L347.8,1612.6 L354.9,1609.3 L362.1,1605.8 L369.2,1602.3 L376.3,1598.6 L383.5,1594.8 L390.6,1591.0 L397.7,1587.0 L404.9,1583.0 L412.0,1578.9 L419.1,1574.8 L426.3,1570.6 L433.4,1566.4 L440.5,1562.1 L447.7,1557.7 L454.8,1553.4 L461.9,1549.0 L469.1,1544.5 L476.2,1540.1 L483.3,1535.6 L490.5,1531.1 L497.6,1526.6 L504.7,1522.0 L511.9,1517.5 L519.0,1512.9 L526.1,1508.3 L533.3,1503.7 L540.4,1499.1 L547.5,1494.5 L554.7,1489.8 L561.8,1485.2 L568.9,1480.6 L576.1,1475.9 L583.2,1471.2 L590.3,1466.6 L597.5,1461.9 L604.6,1457.2 L611.7,1452.5 L618.9,1447.8 L626.0,1443.1 L626.0,1599.9 L618.9,1601.1 L611.7,1602.4 L604.6,1603.7 L597.5,1605.0 L590.3,1606.3 L583.2,1607.7 L576.1,1609.0 L568.9,1610.3 L561.8,1611.6 L554.7,1613.0 L547.5,1614.3 L540.4,1615.7 L533.3,1617.1 L526.1,1618.5 L519.0,1619.9 L511.9,1621.3 L504.7,1622.7 L497.6,1624.1 L490.5,1625.6 L483.3,1627.1 L476.2,1628.6 L469.1,1630.1 L461.9,1631.6 L454.8,1633.2 L447.7,1634.8 L440.5,1636.5 L433.4,1638.2 L426.3,1639.9 L419.1,1641.7 L412.0,1643.5 L404.9,1645.5 L397.7,1647.4 L390.6,1649.5 L383.5,1651.6 L376.3,1653.8 L369.2,1656.1 L362.1,1658.6 L354.9,1661.1 L347.8,1663.8 L340.7,1666.6 L333.5,1669.5 L326.4,1672.5 L319.3,1675.7 L312.1,1679.0 L305.0,1682.4 L297.9,1685.9 L290.7,1689.5 L283.6,1693.3 L276.5,1697.1 L269.3,1701.0 L262.2,1705.0 L255.1,1709.1 L247.9,1713.2 L240.8,1717.4 L233.7,1721.6 L226.5,1725.9 L219.4,1730.2 L212.3,1734.6 L205.1,1739.0 L198.0,1743.4 Z"/></clipPath></defs>
<path d="M189.0,1447.4 L203.0,1443.6 L216.9,1439.7 L230.9,1435.8 L244.9,1431.8 L258.9,1427.8 L272.9,1423.7 L286.8,1419.6 L300.8,1415.4 L314.8,1411.1 L328.8,1406.7 L342.7,1402.2 L356.7,1397.6 L370.7,1392.9 L384.6,1388.0 L398.6,1383.0 L412.6,1377.8 L426.6,1372.4 L440.6,1366.9 L454.5,1361.2 L468.5,1355.2 L482.5,1349.1 L496.4,1342.9 L510.4,1336.4 L524.4,1329.8 L538.4,1323.1 L552.4,1316.3 L566.3,1309.3 L580.3,1302.3 L594.3,1295.1 L608.2,1287.9 L622.2,1280.6 L636.2,1273.3 L650.2,1265.9 L664.1,1258.4 L678.1,1250.9 L692.1,1243.4 L706.1,1235.8 L720.0,1228.3 L734.0,1220.6 L748.0,1213.0 L762.0,1205.3 L776.0,1197.7 L789.9,1190.0 L803.9,1182.3 L817.9,1174.5 L831.9,1166.8 L845.8,1159.1 L859.8,1151.3 L873.8,1143.5 L887.8,1135.8 L901.7,1128.0 L915.7,1120.2 L929.7,1112.4 L943.6,1104.6 L957.6,1096.8 L971.6,1089.0 L985.6,1081.1 L999.5,1073.3 L1013.5,1065.5 L1027.5,1057.6 L1027.5,1250.3 L1013.5,1253.9 L999.5,1257.4 L985.6,1261.0 L971.6,1264.6 L957.6,1268.2 L943.6,1271.8 L929.7,1275.4 L915.7,1279.0 L901.7,1282.6 L887.8,1286.2 L873.8,1289.8 L859.8,1293.5 L845.8,1297.1 L831.9,1300.8 L817.9,1304.4 L803.9,1308.1 L789.9,1311.8 L776.0,1315.5 L762.0,1319.2 L748.0,1323.0 L734.0,1326.7 L720.0,1330.5 L706.1,1334.3 L692.1,1338.2 L678.1,1342.0 L664.1,1346.0 L650.2,1349.9 L636.2,1353.9 L622.2,1358.0 L608.2,1362.1 L594.3,1366.3 L580.3,1370.5 L566.3,1374.9 L552.4,1379.3 L538.4,1383.9 L524.4,1388.5 L510.4,1393.4 L496.4,1398.3 L482.5,1403.4 L468.5,1408.7 L454.5,1414.2 L440.6,1419.9 L426.6,1425.7 L412.6,1431.8 L398.6,1438.0 L384.6,1444.4 L370.7,1450.9 L356.7,1457.6 L342.7,1464.4 L328.8,1471.3 L314.8,1478.3 L300.8,1485.4 L286.8,1492.6 L272.9,1499.9 L258.9,1507.2 L244.9,1514.6 L230.9,1522.0 L216.9,1529.5 L203.0,1537.0 L189.0,1544.6 Z" fill="#24cab4" fill-opacity="0.36"/>
<path d="M198.0,1658.6 L205.1,1657.0 L212.3,1655.4 L219.4,1653.8 L226.5,1652.2 L233.7,1650.5 L240.8,1648.7 L247.9,1646.9 L255.1,1645.1 L262.2,1643.1 L269.3,1641.1 L276.5,1639.1 L283.6,1636.9 L290.7,1634.7 L297.9,1632.3 L305.0,1629.9 L312.1,1627.3 L319.3,1624.6 L326.4,1621.8 L333.5,1618.9 L340.7,1615.8 L347.8,1612.6 L354.9,1609.3 L362.1,1605.8 L369.2,1602.3 L376.3,1598.6 L383.5,1594.8 L390.6,1591.0 L397.7,1587.0 L404.9,1583.0 L412.0,1578.9 L419.1,1574.8 L426.3,1570.6 L433.4,1566.4 L440.5,1562.1 L447.7,1557.7 L454.8,1553.4 L461.9,1549.0 L469.1,1544.5 L476.2,1540.1 L483.3,1535.6 L490.5,1531.1 L497.6,1526.6 L504.7,1522.0 L511.9,1517.5 L519.0,1512.9 L526.1,1508.3 L533.3,1503.7 L540.4,1499.1 L547.5,1494.5 L554.7,1489.8 L561.8,1485.2 L568.9,1480.6 L576.1,1475.9 L583.2,1471.2 L590.3,1466.6 L597.5,1461.9 L604.6,1457.2 L611.7,1452.5 L618.9,1447.8 L626.0,1443.1 L626.0,1599.9 L618.9,1601.1 L611.7,1602.4 L604.6,1603.7 L597.5,1605.0 L590.3,1606.3 L583.2,1607.7 L576.1,1609.0 L568.9,1610.3 L561.8,1611.6 L554.7,1613.0 L547.5,1614.3 L540.4,1615.7 L533.3,1617.1 L526.1,1618.5 L519.0,1619.9 L511.9,1621.3 L504.7,1622.7 L497.6,1624.1 L490.5,1625.6 L483.3,1627.1 L476.2,1628.6 L469.1,1630.1 L461.9,1631.6 L454.8,1633.2 L447.7,1634.8 L440.5,1636.5 L433.4,1638.2 L426.3,1639.9 L419.1,1641.7 L412.0,1643.5 L404.9,1645.5 L397.7,1647.4 L390.6,1649.5 L383.5,1651.6 L376.3,1653.8 L369.2,1656.1 L362.1,1658.6 L354.9,1661.1 L347.8,1663.8 L340.7,1666.6 L333.5,1669.5 L326.4,1672.5 L319.3,1675.7 L312.1,1679.0 L305.0,1682.4 L297.9,1685.9 L290.7,1689.5 L283.6,1693.3 L276.5,1697.1 L269.3,1701.0 L262.2,1705.0 L255.1,1709.1 L247.9,1713.2 L240.8,1717.4 L233.7,1721.6 L226.5,1725.9 L219.4,1730.2 L212.3,1734.6 L205.1,1739.0 L198.0,1743.4 Z" fill="#c4474a" fill-opacity="0.32"/>
<g clip-path="url(#ct)"><circle cx="331.4" cy="1101.1" r="10.3" fill="#5bc8ba"/>
<circle cx="295.8" cy="1127.5" r="10.3" fill="#5bc8ba"/>
<circle cx="402.9" cy="1137.6" r="10.3" fill="#5bc8ba"/>
<circle cx="483.5" cy="1131.0" r="10.3" fill="#5bc8ba"/>
<circle cx="474.6" cy="1150.9" r="10.3" fill="#5bc8ba"/>
<circle cx="349.2" cy="1152.7" r="10.3" fill="#5bc8ba"/>
<circle cx="278.0" cy="1183.3" r="10.3" fill="#5bc8ba"/>
<circle cx="287.8" cy="1186.5" r="10.3" fill="#5bc8ba"/>
<circle cx="286.9" cy="1196.3" r="10.3" fill="#5bc8ba"/>
<circle cx="286.9" cy="1210.5" r="10.3" fill="#5bc8ba"/>
<circle cx="242.5" cy="1208.4" r="10.3" fill="#5bc8ba"/>
<circle cx="260.3" cy="1216.4" r="10.3" fill="#5bc8ba"/>
<circle cx="313.6" cy="1202.2" r="10.3" fill="#5bc8ba"/>
<circle cx="323.4" cy="1204.3" r="10.3" fill="#5bc8ba"/>
<circle cx="358.1" cy="1190.1" r="10.3" fill="#5bc8ba"/>
<circle cx="367.3" cy="1190.9" r="10.3" fill="#5bc8ba"/>
<circle cx="393.6" cy="1183.3" r="10.3" fill="#5bc8ba"/>
<circle cx="411.8" cy="1172.8" r="10.3" fill="#5bc8ba"/>
<circle cx="411.8" cy="1190.9" r="10.3" fill="#5bc8ba"/>
<circle cx="456.2" cy="1196.6" r="10.3" fill="#5bc8ba"/>
<circle cx="367.0" cy="1215.0" r="10.3" fill="#5bc8ba"/>
<circle cx="358.1" cy="1230.6" r="10.3" fill="#5bc8ba"/>
<circle cx="376.7" cy="1229.2" r="10.3" fill="#5bc8ba"/>
<circle cx="322.5" cy="1228.8" r="10.3" fill="#5bc8ba"/>
<circle cx="322.5" cy="1237.7" r="10.3" fill="#5bc8ba"/>
<circle cx="447.4" cy="1222.6" r="10.3" fill="#5bc8ba"/>
<circle cx="465.7" cy="1216.4" r="10.3" fill="#5bc8ba"/>
<circle cx="304.7" cy="1249.1" r="10.3" fill="#5bc8ba"/>
<circle cx="331.4" cy="1252.3" r="10.3" fill="#5bc8ba"/>
<circle cx="340.3" cy="1257.3" r="10.3" fill="#5bc8ba"/>
<circle cx="358.1" cy="1255.5" r="10.3" fill="#5bc8ba"/>
<circle cx="385.1" cy="1247.9" r="10.3" fill="#5bc8ba"/>
<circle cx="447.4" cy="1249.1" r="10.3" fill="#5bc8ba"/>
<circle cx="269.2" cy="1267.4" r="10.3" fill="#5bc8ba"/>
<circle cx="411.8" cy="1267.4" r="10.3" fill="#5bc8ba"/>
<circle cx="349.2" cy="1275.4" r="10.3" fill="#5bc8ba"/>
<circle cx="295.8" cy="1285.2" r="10.3" fill="#5bc8ba"/>
<circle cx="385.1" cy="1279.0" r="10.3" fill="#5bc8ba"/>
<circle cx="402.9" cy="1288.8" r="10.3" fill="#5bc8ba"/>
<circle cx="215.8" cy="1298.9" r="10.3" fill="#5bc8ba"/>
<circle cx="233.6" cy="1303.3" r="10.3" fill="#5bc8ba"/>
<circle cx="286.9" cy="1311.0" r="10.3" fill="#5bc8ba"/>
<circle cx="295.8" cy="1314.2" r="10.3" fill="#5bc8ba"/>
<circle cx="331.4" cy="1325.2" r="10.3" fill="#5bc8ba"/>
<circle cx="501.0" cy="1295.0" r="10.3" fill="#5bc8ba"/>
<circle cx="510.2" cy="1085.1" r="10.3" fill="#5bc8ba"/>
<circle cx="519.1" cy="1118.0" r="10.3" fill="#5bc8ba"/>
<circle cx="581.4" cy="1098.5" r="10.3" fill="#5bc8ba"/>
<circle cx="590.3" cy="1118.0" r="10.3" fill="#5bc8ba"/>
<circle cx="528.0" cy="1137.6" r="10.3" fill="#5bc8ba"/>
<circle cx="536.9" cy="1150.9" r="10.3" fill="#5bc8ba"/>
<circle cx="554.7" cy="1128.7" r="10.3" fill="#5bc8ba"/>
<circle cx="554.7" cy="1143.8" r="10.3" fill="#5bc8ba"/>
<circle cx="634.7" cy="1104.7" r="10.3" fill="#5bc8ba"/>
<circle cx="643.6" cy="1118.0" r="10.3" fill="#5bc8ba"/>
<circle cx="670.8" cy="1131.4" r="10.3" fill="#5bc8ba"/>
<circle cx="643.6" cy="1150.9" r="10.3" fill="#5bc8ba"/>
<circle cx="670.8" cy="1164.3" r="10.3" fill="#5bc8ba"/>
<circle cx="688.6" cy="1157.2" r="10.3" fill="#5bc8ba"/>
<circle cx="715.1" cy="1150.9" r="10.3" fill="#5bc8ba"/>
<circle cx="724.2" cy="1131.4" r="10.3" fill="#5bc8ba"/>
<circle cx="750.7" cy="1139.9" r="10.3" fill="#5bc8ba"/>
<circle cx="768.5" cy="1085.1" r="10.3" fill="#5bc8ba"/>
<circle cx="768.5" cy="1118.0" r="10.3" fill="#5bc8ba"/>
<circle cx="786.8" cy="1150.9" r="10.3" fill="#5bc8ba"/>
<circle cx="804.6" cy="1150.9" r="10.3" fill="#5bc8ba"/>
<circle cx="572.5" cy="1170.5" r="10.3" fill="#5bc8ba"/>
<circle cx="608.0" cy="1176.7" r="10.3" fill="#5bc8ba"/>
<circle cx="625.8" cy="1183.3" r="10.3" fill="#5bc8ba"/>
<circle cx="599.2" cy="1196.6" r="10.3" fill="#5bc8ba"/>
<circle cx="679.2" cy="1203.0" r="10.3" fill="#5bc8ba"/>
<circle cx="706.2" cy="1196.6" r="10.3" fill="#5bc8ba"/>
<circle cx="759.6" cy="1203.0" r="10.3" fill="#5bc8ba"/>
<circle cx="616.9" cy="1214.4" r="10.3" fill="#5bc8ba"/>
<circle cx="599.2" cy="1222.6" r="10.3" fill="#5bc8ba"/>
<circle cx="625.8" cy="1229.2" r="10.3" fill="#5bc8ba"/>
<circle cx="616.9" cy="1246.1" r="10.3" fill="#5bc8ba"/>
<circle cx="643.6" cy="1255.5" r="10.3" fill="#5bc8ba"/>
<circle cx="554.7" cy="1267.8" r="10.3" fill="#5bc8ba"/>
<circle cx="599.2" cy="1268.3" r="10.3" fill="#5bc8ba"/>
<circle cx="750.7" cy="1248.7" r="10.3" fill="#5bc8ba"/>
<circle cx="777.9" cy="1235.9" r="10.3" fill="#5bc8ba"/>
<circle cx="536.9" cy="1314.5" r="10.3" fill="#5bc8ba"/>
<circle cx="643.6" cy="1314.5" r="10.3" fill="#5bc8ba"/>
<circle cx="590.3" cy="1345.7" r="10.3" fill="#5bc8ba"/>
<circle cx="768.5" cy="1343.0" r="10.3" fill="#5bc8ba"/>
<circle cx="956.2" cy="1150.9" r="10.3" fill="#5bc8ba"/>
<circle cx="857.8" cy="1203.0" r="10.3" fill="#5bc8ba"/>
<circle cx="1027.7" cy="1163.7" r="10.3" fill="#5bc8ba"/>
<circle cx="251.3" cy="1353.9" r="10.3" fill="#5bc8ba"/>
<circle cx="295.8" cy="1353.9" r="10.3" fill="#5bc8ba"/>
<circle cx="313.9" cy="1359.2" r="10.3" fill="#5bc8ba"/>
<circle cx="340.6" cy="1353.9" r="10.3" fill="#5bc8ba"/>
<circle cx="376.2" cy="1359.9" r="10.3" fill="#5bc8ba"/>
<circle cx="367.0" cy="1373.8" r="10.3" fill="#5bc8ba"/>
<circle cx="394.0" cy="1366.7" r="10.3" fill="#5bc8ba"/>
<circle cx="233.5" cy="1380.1" r="10.3" fill="#5bc8ba"/>
<circle cx="260.3" cy="1379.8" r="10.3" fill="#5bc8ba"/>
<circle cx="262.4" cy="1392.6" r="10.3" fill="#5bc8ba"/>
<circle cx="269.5" cy="1393.3" r="10.3" fill="#5bc8ba"/>
<circle cx="322.6" cy="1391.9" r="10.3" fill="#5bc8ba"/>
<circle cx="340.6" cy="1412.5" r="10.3" fill="#5bc8ba"/>
<circle cx="411.8" cy="1423.2" r="10.3" fill="#5bc8ba"/>
<circle cx="420.3" cy="1431.7" r="10.3" fill="#5bc8ba"/>
<circle cx="411.8" cy="1446.0" r="10.3" fill="#5bc8ba"/>
<circle cx="403.0" cy="1463.0" r="10.3" fill="#5bc8ba"/>
<circle cx="385.5" cy="1478.0" r="10.3" fill="#5bc8ba"/>
<circle cx="358.1" cy="1484.8" r="10.3" fill="#5bc8ba"/>
<circle cx="313.9" cy="1452.4" r="10.3" fill="#5bc8ba"/>
<circle cx="233.5" cy="1478.0" r="10.3" fill="#5bc8ba"/>
<circle cx="287.3" cy="1510.7" r="10.3" fill="#5bc8ba"/>
<circle cx="295.1" cy="1510.7" r="10.3" fill="#5bc8ba"/>
<circle cx="313.9" cy="1504.3" r="10.3" fill="#5bc8ba"/>
<circle cx="376.2" cy="1510.7" r="10.3" fill="#5bc8ba"/>
<circle cx="403.0" cy="1529.9" r="10.3" fill="#5bc8ba"/>
<circle cx="287.3" cy="1532.0" r="10.3" fill="#5bc8ba"/>
<circle cx="260.3" cy="1537.0" r="10.3" fill="#5bc8ba"/>
<circle cx="268.8" cy="1537.0" r="10.3" fill="#5bc8ba"/>
<circle cx="295.8" cy="1550.5" r="10.3" fill="#5bc8ba"/>
<circle cx="295.8" cy="1563.3" r="10.3" fill="#5bc8ba"/>
<circle cx="358.1" cy="1556.2" r="10.3" fill="#5bc8ba"/>
<circle cx="242.5" cy="1563.3" r="10.3" fill="#5bc8ba"/>
<circle cx="403.0" cy="1566.2" r="10.3" fill="#5bc8ba"/>
<circle cx="206.9" cy="1576.1" r="10.3" fill="#5bc8ba"/>
<circle cx="233.5" cy="1582.5" r="10.3" fill="#5bc8ba"/>
<circle cx="358.1" cy="1576.8" r="10.3" fill="#5bc8ba"/>
<circle cx="251.4" cy="1595.9" r="10.3" fill="#5bc8ba"/>
<circle cx="261.0" cy="1595.9" r="10.3" fill="#5bc8ba"/>
<circle cx="269.2" cy="1588.1" r="10.3" fill="#5bc8ba"/>
<circle cx="287.0" cy="1595.6" r="10.3" fill="#5bc8ba"/>
<circle cx="304.8" cy="1586.0" r="10.3" fill="#5bc8ba"/>
<circle cx="189.0" cy="1641.9" r="10.3" fill="#5bc8ba"/>
<circle cx="242.5" cy="1644.9" r="10.3" fill="#5bc8ba"/>
<circle cx="242.5" cy="1664.1" r="10.3" fill="#5bc8ba"/>
<circle cx="251.4" cy="1668.2" r="10.3" fill="#5bc8ba"/>
<circle cx="304.8" cy="1645.6" r="10.3" fill="#5bc8ba"/>
<circle cx="313.7" cy="1660.7" r="10.3" fill="#5bc8ba"/>
<circle cx="358.2" cy="1612.7" r="10.3" fill="#5bc8ba"/>
<circle cx="367.8" cy="1628.5" r="10.3" fill="#5bc8ba"/>
<circle cx="411.6" cy="1605.9" r="10.3" fill="#5bc8ba"/>
<circle cx="393.8" cy="1636.7" r="10.3" fill="#5bc8ba"/>
<circle cx="385.6" cy="1643.6" r="10.3" fill="#5bc8ba"/>
<circle cx="367.8" cy="1656.6" r="10.3" fill="#5bc8ba"/>
<circle cx="420.5" cy="1660.7" r="10.3" fill="#5bc8ba"/>
<circle cx="233.6" cy="1684.0" r="10.3" fill="#5bc8ba"/>
<circle cx="349.3" cy="1691.5" r="10.3" fill="#5bc8ba"/>
<circle cx="367.8" cy="1705.9" r="10.3" fill="#5bc8ba"/>
<circle cx="367.8" cy="1721.0" r="10.3" fill="#5bc8ba"/>
<circle cx="376.0" cy="1730.5" r="10.3" fill="#5bc8ba"/>
<circle cx="393.8" cy="1738.1" r="10.3" fill="#5bc8ba"/>
<circle cx="457.0" cy="1359.9" r="10.3" fill="#5bc8ba"/>
<circle cx="483.3" cy="1386.9" r="10.3" fill="#5bc8ba"/>
<circle cx="447.7" cy="1425.6" r="10.3" fill="#5bc8ba"/>
<circle cx="536.9" cy="1442.4" r="10.3" fill="#5bc8ba"/>
<circle cx="492.2" cy="1457.8" r="10.3" fill="#5bc8ba"/>
<circle cx="527.8" cy="1463.7" r="10.3" fill="#5bc8ba"/>
<circle cx="545.9" cy="1489.3" r="10.3" fill="#5bc8ba"/>
<circle cx="492.2" cy="1509.3" r="10.3" fill="#5bc8ba"/>
<circle cx="510.3" cy="1512.1" r="10.3" fill="#5bc8ba"/>
<circle cx="465.5" cy="1531.3" r="10.3" fill="#5bc8ba"/>
<circle cx="429.9" cy="1533.5" r="10.3" fill="#5bc8ba"/>
<circle cx="429.9" cy="1544.1" r="10.3" fill="#5bc8ba"/>
<circle cx="527.8" cy="1574.0" r="10.3" fill="#5bc8ba"/>
<circle cx="447.0" cy="1591.5" r="10.3" fill="#5bc8ba"/>
<circle cx="501.1" cy="1592.9" r="10.3" fill="#5bc8ba"/>
<circle cx="527.8" cy="1584.0" r="10.3" fill="#5bc8ba"/>
<circle cx="527.8" cy="1609.3" r="10.3" fill="#5bc8ba"/>
<circle cx="590.4" cy="1588.1" r="10.3" fill="#5bc8ba"/>
<circle cx="447.7" cy="1623.7" r="10.3" fill="#5bc8ba"/>
<circle cx="456.6" cy="1627.8" r="10.3" fill="#5bc8ba"/>
<circle cx="492.2" cy="1640.1" r="10.3" fill="#5bc8ba"/>
<circle cx="510.0" cy="1636.0" r="10.3" fill="#5bc8ba"/>
<circle cx="438.8" cy="1657.5" r="10.3" fill="#5bc8ba"/>
<circle cx="510.0" cy="1657.9" r="10.3" fill="#5bc8ba"/>
<circle cx="501.1" cy="1669.6" r="10.3" fill="#5bc8ba"/>
<circle cx="483.3" cy="1678.5" r="10.3" fill="#5bc8ba"/>
<circle cx="536.7" cy="1664.4" r="10.3" fill="#5bc8ba"/>
<circle cx="661.8" cy="1602.5" r="10.3" fill="#5bc8ba"/>
<circle cx="572.7" cy="1695.6" r="10.3" fill="#5bc8ba"/>
<circle cx="590.4" cy="1694.0" r="10.3" fill="#5bc8ba"/>
<circle cx="661.8" cy="1699.5" r="10.3" fill="#5bc8ba"/>
<circle cx="519.6" cy="1712.7" r="10.3" fill="#5bc8ba"/>
<circle cx="528.5" cy="1708.6" r="10.3" fill="#5bc8ba"/>
<circle cx="438.8" cy="1723.7" r="10.3" fill="#5bc8ba"/>
<circle cx="456.6" cy="1729.2" r="10.3" fill="#5bc8ba"/>
<circle cx="894.0" cy="1414.9" r="10.3" fill="#5bc8ba"/>
<circle cx="849.3" cy="1520.1" r="10.3" fill="#5bc8ba"/>
<circle cx="491.8" cy="1229.2" r="10.3" fill="#5bc8ba"/></g>
<g clip-path="url(#cr)"><circle cx="242.5" cy="1516.1" r="10.3" fill="#e36c68"/>
<circle cx="349.5" cy="1528.0" r="10.3" fill="#e36c68"/>
<circle cx="313.9" cy="1556.2" r="10.3" fill="#e36c68"/>
<circle cx="376.2" cy="1549.8" r="10.3" fill="#e36c68"/>
<circle cx="286.6" cy="1603.2" r="10.3" fill="#e36c68"/>
<circle cx="287.0" cy="1610.0" r="10.3" fill="#e36c68"/>
<circle cx="295.9" cy="1623.7" r="10.3" fill="#e36c68"/>
<circle cx="313.7" cy="1624.4" r="10.3" fill="#e36c68"/>
<circle cx="331.5" cy="1627.1" r="10.3" fill="#e36c68"/>
<circle cx="331.5" cy="1647.7" r="10.3" fill="#e36c68"/>
<circle cx="331.5" cy="1664.1" r="10.3" fill="#e36c68"/>
<circle cx="295.9" cy="1671.0" r="10.3" fill="#e36c68"/>
<circle cx="322.6" cy="1684.0" r="10.3" fill="#e36c68"/>
<circle cx="403.2" cy="1681.9" r="10.3" fill="#e36c68"/>
<circle cx="197.3" cy="1703.8" r="10.3" fill="#e36c68"/>
<circle cx="206.8" cy="1722.3" r="10.3" fill="#e36c68"/>
<circle cx="206.8" cy="1733.3" r="10.3" fill="#e36c68"/>
<circle cx="233.6" cy="1718.9" r="10.3" fill="#e36c68"/>
<circle cx="233.6" cy="1689.5" r="10.3" fill="#e36c68"/>
<circle cx="260.3" cy="1689.5" r="10.3" fill="#e36c68"/>
<circle cx="242.5" cy="1739.5" r="10.3" fill="#e36c68"/>
<circle cx="251.4" cy="1739.5" r="10.3" fill="#e36c68"/>
<circle cx="260.3" cy="1739.5" r="10.3" fill="#e36c68"/>
<circle cx="278.1" cy="1739.5" r="10.3" fill="#e36c68"/>
<circle cx="304.8" cy="1739.5" r="10.3" fill="#e36c68"/>
<circle cx="510.0" cy="1423.5" r="10.3" fill="#e36c68"/>
<circle cx="626.0" cy="1463.5" r="10.3" fill="#e36c68"/>
<circle cx="518.8" cy="1549.8" r="10.3" fill="#e36c68"/>
<circle cx="474.4" cy="1603.6" r="10.3" fill="#e36c68"/>
<circle cx="617.1" cy="1732.3" r="10.3" fill="#e36c68"/></g>
<line x1="189" y1="1496" x2="1027.5" y2="1154" stroke="#5bc8ba" stroke-width="9"/>
<line x1="198" y1="1701" x2="626" y2="1521.5" stroke="#e36c68" stroke-width="9"/>
<g stroke="#000" stroke-width="4.6" fill="none">
<path d="M147.3,1022.3 V1778.5 M145.1,1776.7 H1069.5"/>
<path d="M134.2,1739.7 H147"/>
<path d="M134.2,1576.2 H147"/>
<path d="M134.2,1412.7 H147"/>
<path d="M134.2,1249.2 H147"/>
<path d="M134.2,1085.7 H147"/>
<path d="M349.3,1776 V1790"/>
<path d="M571.9,1776 V1790"/>
<path d="M794.5,1776 V1790"/>
<path d="M1017.1,1776 V1790"/>
</g>
<g font-family="Liberation Sans, Arial, sans-serif" font-size="33" fill="#000">
<text x="122.2" y="1750.2" text-anchor="end">0</text>
<text x="122.2" y="1587" text-anchor="end">25</text>
<text x="122.2" y="1422" text-anchor="end">50</text>
<text x="122.2" y="1260.2" text-anchor="end">75</text>
<text x="122.2" y="1095" text-anchor="end">100</text>
<text x="355.3" y="1825.2" text-anchor="middle">0.25</text>
<text x="581.2" y="1825.2" text-anchor="middle">0.50</text>
<text x="803.0" y="1825.2" text-anchor="middle">0.75</text>
<text x="1024.9" y="1825.2" text-anchor="middle">1.00</text>
<text x="426.5" y="1897.6">Root diameter (mm)</text>
<text transform="translate(42.9,1696.5) rotate(-90)" font-size="32.8">Arbuscular mycorrhizal colonization (%)</text>
<text x="4.6" y="974" font-size="38">b</text>
</g>
<g stroke="#e36c68" fill="none">
<path d="M1492.7,144 V424.5 M1492.7,1326 V1700" stroke-width="4"/>
<rect x="1346.2" y="424.5" width="293" height="901.5" stroke-width="4.6"/>
<path d="M1346.2,804.9 H1639.2" stroke-width="9.5"/>
</g>
<g stroke="#5bc8ba" fill="none">
<path d="M1911.8,1043 V1377 M1911.8,1662.6 V1700" stroke-width="4"/>
<rect x="1765.3" y="1377" width="293.7" height="285.6" stroke-width="4.6"/>
<path d="M1765.3,1526.8 H2059" stroke-width="9.5"/>
</g>
<circle cx="1965.9" cy="947.7" r="10.3" fill="#5bc8ba"/>
<circle cx="1897.1" cy="1042.5" r="10.3" fill="#5bc8ba"/>
<circle cx="1889.3" cy="1167.3" r="10.3" fill="#5bc8ba"/>
<circle cx="1932.1" cy="1195.6" r="10.3" fill="#5bc8ba"/>
<circle cx="1929.2" cy="1249.1" r="10.3" fill="#5bc8ba"/>
<circle cx="1943.6" cy="1263.5" r="10.3" fill="#5bc8ba"/>
<circle cx="1989.6" cy="1248.2" r="10.3" fill="#5bc8ba"/>
<circle cx="1875.4" cy="1378.3" r="10.3" fill="#5bc8ba"/>
<circle cx="1982.3" cy="1375.4" r="10.3" fill="#5bc8ba"/>
<circle cx="1950.5" cy="1388.4" r="10.3" fill="#5bc8ba"/>
<circle cx="1894.5" cy="1430.1" r="10.3" fill="#5bc8ba"/>
<circle cx="1908.7" cy="1421.2" r="10.3" fill="#5bc8ba"/>
<circle cx="1922.5" cy="1423.5" r="10.3" fill="#5bc8ba"/>
<circle cx="1981.9" cy="1432.0" r="10.3" fill="#5bc8ba"/>
<circle cx="1900.2" cy="1488.7" r="10.3" fill="#5bc8ba"/>
<circle cx="1945.6" cy="1519.3" r="10.3" fill="#5bc8ba"/>
<circle cx="1837.2" cy="1536.0" r="10.3" fill="#5bc8ba"/>
<circle cx="1838.2" cy="1561.9" r="10.3" fill="#5bc8ba"/>
<circle cx="1919.5" cy="1565.3" r="10.3" fill="#5bc8ba"/>
<circle cx="1914.7" cy="1578.5" r="10.3" fill="#5bc8ba"/>
<circle cx="1945.9" cy="1578.5" r="10.3" fill="#5bc8ba"/>
<circle cx="1876.6" cy="1614.0" r="10.3" fill="#5bc8ba"/>
<circle cx="1895.8" cy="1649.9" r="10.3" fill="#5bc8ba"/>
<circle cx="1975.8" cy="1657.9" r="10.3" fill="#5bc8ba"/>
<circle cx="1856.7" cy="1683.4" r="10.3" fill="#5bc8ba"/>
<circle cx="1887.3" cy="1680.9" r="10.3" fill="#5bc8ba"/>
<circle cx="1836.3" cy="1699.1" r="10.3" fill="#5bc8ba"/>
<circle cx="1857.7" cy="1697.6" r="10.3" fill="#5bc8ba"/>
<circle cx="1870.9" cy="1698.5" r="10.3" fill="#5bc8ba"/>
<circle cx="1909.3" cy="1699.1" r="10.3" fill="#5bc8ba"/>
<circle cx="1941.4" cy="1698.5" r="10.3" fill="#5bc8ba"/>
<circle cx="1473.0" cy="143.4" r="10.3" fill="#e36c68"/>
<circle cx="1558.4" cy="143.4" r="10.3" fill="#e36c68"/>
<circle cx="1522.4" cy="174.5" r="10.3" fill="#e36c68"/>
<circle cx="1555.7" cy="180.5" r="10.3" fill="#e36c68"/>
<circle cx="1501.7" cy="190.1" r="10.3" fill="#e36c68"/>
<circle cx="1428.5" cy="221.2" r="10.3" fill="#e36c68"/>
<circle cx="1435.2" cy="221.2" r="10.3" fill="#e36c68"/>
<circle cx="1484.1" cy="221.2" r="10.3" fill="#e36c68"/>
<circle cx="1514.6" cy="221.2" r="10.3" fill="#e36c68"/>
<circle cx="1408.9" cy="252.3" r="10.3" fill="#e36c68"/>
<circle cx="1443.4" cy="252.3" r="10.3" fill="#e36c68"/>
<circle cx="1424.5" cy="267.9" r="10.3" fill="#e36c68"/>
<circle cx="1514.6" cy="243.0" r="10.3" fill="#e36c68"/>
<circle cx="1533.0" cy="245.6" r="10.3" fill="#e36c68"/>
<circle cx="1558.4" cy="252.3" r="10.3" fill="#e36c68"/>
<circle cx="1546.8" cy="266.8" r="10.3" fill="#e36c68"/>
<circle cx="1542.4" cy="273.4" r="10.3" fill="#e36c68"/>
<circle cx="1544.6" cy="284.6" r="10.3" fill="#e36c68"/>
<circle cx="1453.4" cy="299.0" r="10.3" fill="#e36c68"/>
<circle cx="1476.8" cy="303.5" r="10.3" fill="#e36c68"/>
<circle cx="1485.7" cy="297.9" r="10.3" fill="#e36c68"/>
<circle cx="1520.1" cy="299.0" r="10.3" fill="#e36c68"/>
<circle cx="1534.6" cy="299.0" r="10.3" fill="#e36c68"/>
<circle cx="1553.5" cy="299.0" r="10.3" fill="#e36c68"/>
<circle cx="1562.4" cy="299.0" r="10.3" fill="#e36c68"/>
<circle cx="1570.2" cy="314.6" r="10.3" fill="#e36c68"/>
<circle cx="1570.2" cy="330.2" r="10.3" fill="#e36c68"/>
<circle cx="1478.3" cy="330.2" r="10.3" fill="#e36c68"/>
<circle cx="1416.7" cy="345.7" r="10.3" fill="#e36c68"/>
<circle cx="1431.2" cy="351.3" r="10.3" fill="#e36c68"/>
<circle cx="1424.5" cy="361.3" r="10.3" fill="#e36c68"/>
<circle cx="1457.9" cy="376.9" r="10.3" fill="#e36c68"/>
<circle cx="1471.2" cy="376.9" r="10.3" fill="#e36c68"/>
<circle cx="1425.6" cy="392.4" r="10.3" fill="#e36c68"/>
<circle cx="1461.2" cy="393.5" r="10.3" fill="#e36c68"/>
<circle cx="1462.3" cy="408.0" r="10.3" fill="#e36c68"/>
<circle cx="1473.4" cy="422.4" r="10.3" fill="#e36c68"/>
<circle cx="1496.8" cy="391.3" r="10.3" fill="#e36c68"/>
<circle cx="1517.9" cy="376.9" r="10.3" fill="#e36c68"/>
<circle cx="1509.0" cy="382.4" r="10.3" fill="#e36c68"/>
<circle cx="1512.3" cy="399.1" r="10.3" fill="#e36c68"/>
<circle cx="1502.3" cy="409.1" r="10.3" fill="#e36c68"/>
<circle cx="1541.9" cy="376.9" r="10.3" fill="#e36c68"/>
<circle cx="1542.4" cy="408.0" r="10.3" fill="#e36c68"/>
<circle cx="1565.7" cy="406.9" r="10.3" fill="#e36c68"/>
<circle cx="1426.7" cy="423.6" r="10.3" fill="#e36c68"/>
<circle cx="1449.0" cy="426.9" r="10.3" fill="#e36c68"/>
<circle cx="1535.7" cy="423.6" r="10.3" fill="#e36c68"/>
<circle cx="1559.0" cy="424.7" r="10.3" fill="#e36c68"/>
<circle cx="1562.4" cy="435.8" r="10.3" fill="#e36c68"/>
<circle cx="1571.3" cy="451.4" r="10.3" fill="#e36c68"/>
<circle cx="1483.4" cy="440.2" r="10.3" fill="#e36c68"/>
<circle cx="1484.6" cy="454.7" r="10.3" fill="#e36c68"/>
<circle cx="1482.3" cy="470.3" r="10.3" fill="#e36c68"/>
<circle cx="1531.3" cy="454.7" r="10.3" fill="#e36c68"/>
<circle cx="1449.0" cy="469.1" r="10.3" fill="#e36c68"/>
<circle cx="1455.6" cy="484.7" r="10.3" fill="#e36c68"/>
<circle cx="1464.5" cy="485.8" r="10.3" fill="#e36c68"/>
<circle cx="1429.0" cy="485.8" r="10.3" fill="#e36c68"/>
<circle cx="1503.5" cy="489.2" r="10.3" fill="#e36c68"/>
<circle cx="1573.5" cy="484.7" r="10.3" fill="#e36c68"/>
<circle cx="1485.7" cy="501.4" r="10.3" fill="#e36c68"/>
<circle cx="1532.4" cy="505.8" r="10.3" fill="#e36c68"/>
<circle cx="1565.7" cy="451.4" r="10.3" fill="#e36c68"/>
<circle cx="1431.6" cy="532.2" r="10.3" fill="#e36c68"/>
<circle cx="1445.0" cy="524.0" r="10.3" fill="#e36c68"/>
<circle cx="1454.5" cy="530.0" r="10.3" fill="#e36c68"/>
<circle cx="1447.9" cy="547.8" r="10.3" fill="#e36c68"/>
<circle cx="1511.2" cy="532.2" r="10.3" fill="#e36c68"/>
<circle cx="1529.0" cy="532.2" r="10.3" fill="#e36c68"/>
<circle cx="1520.1" cy="545.6" r="10.3" fill="#e36c68"/>
<circle cx="1527.9" cy="551.1" r="10.3" fill="#e36c68"/>
<circle cx="1453.4" cy="575.6" r="10.3" fill="#e36c68"/>
<circle cx="1504.6" cy="578.9" r="10.3" fill="#e36c68"/>
<circle cx="1533.5" cy="575.6" r="10.3" fill="#e36c68"/>
<circle cx="1550.8" cy="577.8" r="10.3" fill="#e36c68"/>
<circle cx="1517.9" cy="594.5" r="10.3" fill="#e36c68"/>
<circle cx="1446.1" cy="604.1" r="10.3" fill="#e36c68"/>
<circle cx="1556.8" cy="617.9" r="10.3" fill="#e36c68"/>
<circle cx="1541.3" cy="627.2" r="10.3" fill="#e36c68"/>
<circle cx="1545.7" cy="641.7" r="10.3" fill="#e36c68"/>
<circle cx="1410.7" cy="661.7" r="10.3" fill="#e36c68"/>
<circle cx="1497.4" cy="650.8" r="10.3" fill="#e36c68"/>
<circle cx="1573.9" cy="680.1" r="10.3" fill="#e36c68"/>
<circle cx="1465.6" cy="687.9" r="10.3" fill="#e36c68"/>
<circle cx="1473.4" cy="687.9" r="10.3" fill="#e36c68"/>
<circle cx="1489.7" cy="713.0" r="10.3" fill="#e36c68"/>
<circle cx="1447.4" cy="756.9" r="10.3" fill="#e36c68"/>
<circle cx="1494.6" cy="765.3" r="10.3" fill="#e36c68"/>
<circle cx="1486.8" cy="781.3" r="10.3" fill="#e36c68"/>
<circle cx="1501.2" cy="781.3" r="10.3" fill="#e36c68"/>
<circle cx="1418.9" cy="781.3" r="10.3" fill="#e36c68"/>
<circle cx="1429.0" cy="796.9" r="10.3" fill="#e36c68"/>
<circle cx="1557.9" cy="793.5" r="10.3" fill="#e36c68"/>
<circle cx="1540.1" cy="812.5" r="10.3" fill="#e36c68"/>
<circle cx="1476.8" cy="828.0" r="10.3" fill="#e36c68"/>
<circle cx="1472.3" cy="843.6" r="10.3" fill="#e36c68"/>
<circle cx="1490.8" cy="843.6" r="10.3" fill="#e36c68"/>
<circle cx="1567.5" cy="843.6" r="10.3" fill="#e36c68"/>
<circle cx="1540.8" cy="859.2" r="10.3" fill="#e36c68"/>
<circle cx="1446.1" cy="874.7" r="10.3" fill="#e36c68"/>
<circle cx="1466.1" cy="874.7" r="10.3" fill="#e36c68"/>
<circle cx="1505.0" cy="871.4" r="10.3" fill="#e36c68"/>
<circle cx="1438.3" cy="921.6" r="10.3" fill="#e36c68"/>
<circle cx="1497.4" cy="926.7" r="10.3" fill="#e36c68"/>
<circle cx="1447.6" cy="947.8" r="10.3" fill="#e36c68"/>
<circle cx="1549.7" cy="952.7" r="10.3" fill="#e36c68"/>
<circle cx="1510.8" cy="968.3" r="10.3" fill="#e36c68"/>
<circle cx="1519.0" cy="993.0" r="10.3" fill="#e36c68"/>
<circle cx="1432.7" cy="999.4" r="10.3" fill="#e36c68"/>
<circle cx="1462.3" cy="1015.0" r="10.3" fill="#e36c68"/>
<circle cx="1521.9" cy="1029.0" r="10.3" fill="#e36c68"/>
<circle cx="1439.6" cy="1041.5" r="10.3" fill="#e36c68"/>
<circle cx="1500.1" cy="1043.5" r="10.3" fill="#e36c68"/>
<circle cx="1445.6" cy="1077.3" r="10.3" fill="#e36c68"/>
<circle cx="1529.7" cy="1077.3" r="10.3" fill="#e36c68"/>
<circle cx="1477.4" cy="1092.8" r="10.3" fill="#e36c68"/>
<circle cx="1575.7" cy="1103.9" r="10.3" fill="#e36c68"/>
<circle cx="1565.7" cy="1139.1" r="10.3" fill="#e36c68"/>
<circle cx="1569.1" cy="1156.9" r="10.3" fill="#e36c68"/>
<circle cx="1433.4" cy="1155.1" r="10.3" fill="#e36c68"/>
<circle cx="1445.6" cy="1151.8" r="10.3" fill="#e36c68"/>
<circle cx="1488.3" cy="1155.1" r="10.3" fill="#e36c68"/>
<circle cx="1507.2" cy="1155.1" r="10.3" fill="#e36c68"/>
<circle cx="1512.8" cy="1176.9" r="10.3" fill="#e36c68"/>
<circle cx="1421.6" cy="1200.2" r="10.3" fill="#e36c68"/>
<circle cx="1468.5" cy="1200.2" r="10.3" fill="#e36c68"/>
<circle cx="1461.2" cy="1208.0" r="10.3" fill="#e36c68"/>
<circle cx="1468.5" cy="1215.8" r="10.3" fill="#e36c68"/>
<circle cx="1489.7" cy="1217.4" r="10.3" fill="#e36c68"/>
<circle cx="1570.2" cy="1203.6" r="10.3" fill="#e36c68"/>
<circle cx="1573.9" cy="1217.4" r="10.3" fill="#e36c68"/>
<circle cx="1517.5" cy="1232.9" r="10.3" fill="#e36c68"/>
<circle cx="1536.1" cy="1249.6" r="10.3" fill="#e36c68"/>
<circle cx="1509.5" cy="1264.1" r="10.3" fill="#e36c68"/>
<circle cx="1424.5" cy="1287.1" r="10.3" fill="#e36c68"/>
<circle cx="1440.1" cy="1279.6" r="10.3" fill="#e36c68"/>
<circle cx="1477.9" cy="1287.1" r="10.3" fill="#e36c68"/>
<circle cx="1482.3" cy="1279.6" r="10.3" fill="#e36c68"/>
<circle cx="1460.1" cy="1310.5" r="10.3" fill="#e36c68"/>
<circle cx="1541.9" cy="1305.6" r="10.3" fill="#e36c68"/>
<circle cx="1569.1" cy="1310.5" r="10.3" fill="#e36c68"/>
<circle cx="1440.5" cy="1325.6" r="10.3" fill="#e36c68"/>
<circle cx="1433.4" cy="1337.4" r="10.3" fill="#e36c68"/>
<circle cx="1434.5" cy="1356.1" r="10.3" fill="#e36c68"/>
<circle cx="1471.2" cy="1333.4" r="10.3" fill="#e36c68"/>
<circle cx="1471.2" cy="1347.8" r="10.3" fill="#e36c68"/>
<circle cx="1516.8" cy="1326.7" r="10.3" fill="#e36c68"/>
<circle cx="1519.0" cy="1341.2" r="10.3" fill="#e36c68"/>
<circle cx="1524.6" cy="1350.1" r="10.3" fill="#e36c68"/>
<circle cx="1557.9" cy="1357.2" r="10.3" fill="#e36c68"/>
<circle cx="1477.9" cy="1372.7" r="10.3" fill="#e36c68"/>
<circle cx="1457.2" cy="1381.2" r="10.3" fill="#e36c68"/>
<circle cx="1416.7" cy="1396.8" r="10.3" fill="#e36c68"/>
<circle cx="1557.9" cy="1389.0" r="10.3" fill="#e36c68"/>
<circle cx="1560.2" cy="1423.9" r="10.3" fill="#e36c68"/>
<circle cx="1434.5" cy="1433.5" r="10.3" fill="#e36c68"/>
<circle cx="1517.9" cy="1433.5" r="10.3" fill="#e36c68"/>
<circle cx="1427.2" cy="1452.4" r="10.3" fill="#e36c68"/>
<circle cx="1449.0" cy="1453.5" r="10.3" fill="#e36c68"/>
<circle cx="1449.4" cy="1466.8" r="10.3" fill="#e36c68"/>
<circle cx="1450.1" cy="1477.5" r="10.3" fill="#e36c68"/>
<circle cx="1521.2" cy="1461.3" r="10.3" fill="#e36c68"/>
<circle cx="1477.9" cy="1469.0" r="10.3" fill="#e36c68"/>
<circle cx="1492.3" cy="1474.6" r="10.3" fill="#e36c68"/>
<circle cx="1506.8" cy="1483.5" r="10.3" fill="#e36c68"/>
<circle cx="1499.0" cy="1501.3" r="10.3" fill="#e36c68"/>
<circle cx="1507.9" cy="1501.3" r="10.3" fill="#e36c68"/>
<circle cx="1525.7" cy="1505.7" r="10.3" fill="#e36c68"/>
<circle cx="1547.9" cy="1508.0" r="10.3" fill="#e36c68"/>
<circle cx="1553.5" cy="1508.0" r="10.3" fill="#e36c68"/>
<circle cx="1454.5" cy="1508.0" r="10.3" fill="#e36c68"/>
<circle cx="1444.5" cy="1522.0" r="10.3" fill="#e36c68"/>
<circle cx="1463.4" cy="1519.1" r="10.3" fill="#e36c68"/>
<circle cx="1476.8" cy="1511.3" r="10.3" fill="#e36c68"/>
<circle cx="1477.9" cy="1534.6" r="10.3" fill="#e36c68"/>
<circle cx="1560.2" cy="1531.3" r="10.3" fill="#e36c68"/>
<circle cx="1450.1" cy="1553.5" r="10.3" fill="#e36c68"/>
<circle cx="1459.4" cy="1574.7" r="10.3" fill="#e36c68"/>
<circle cx="1461.2" cy="1584.7" r="10.3" fill="#e36c68"/>
<circle cx="1412.9" cy="1590.2" r="10.3" fill="#e36c68"/>
<circle cx="1433.0" cy="1593.6" r="10.3" fill="#e36c68"/>
<circle cx="1493.0" cy="1603.6" r="10.3" fill="#e36c68"/>
<circle cx="1520.1" cy="1618.0" r="10.3" fill="#e36c68"/>
<circle cx="1504.6" cy="1624.7" r="10.3" fill="#e36c68"/>
<circle cx="1453.0" cy="1634.3" r="10.3" fill="#e36c68"/>
<circle cx="1508.3" cy="1653.6" r="10.3" fill="#e36c68"/>
<circle cx="1462.1" cy="1661.0" r="10.3" fill="#e36c68"/>
<circle cx="1473.9" cy="1661.0" r="10.3" fill="#e36c68"/>
<circle cx="1415.9" cy="1673.8" r="10.3" fill="#e36c68"/>
<circle cx="1559.7" cy="1676.2" r="10.3" fill="#e36c68"/>
<circle cx="1489.0" cy="1695.3" r="10.3" fill="#e36c68"/>
<g stroke="#000" stroke-width="4.6" fill="none">
<path d="M1241.2,65.7 V1779 M1239,1776.8 H2164"/>
<path d="M1228.3,1700.0 H1241"/>
<path d="M1228.3,1310.9 H1241"/>
<path d="M1228.3,921.9 H1241"/>
<path d="M1228.3,532.8 H1241"/>
<path d="M1228.3,143.7 H1241"/>
<path d="M1492.5,1775 V1789"/>
<path d="M1911.7,1775 V1789"/>
</g>
<g font-family="Liberation Sans, Arial, sans-serif" font-size="33" fill="#000">
<text x="1219.3" y="1713.6" text-anchor="end">0</text>
<text x="1218.5" y="1322.6" text-anchor="end">25</text>
<text x="1217.8" y="932.4" text-anchor="end">50</text>
<text x="1219.5" y="543.4" text-anchor="end">75</text>
<text x="1215.8" y="156.4" text-anchor="end">100</text>
<text x="1439" y="1827">Woody</text>
<text x="1822" y="1827">Non-woody</text>
<text x="1603" y="1897">Growth form</text>
<text transform="translate(1139.8,1301.1) rotate(-90)" font-size="32.8">Arbuscular mycorrhizal colonization (%)</text>
<text x="1127.1" y="23.6" font-size="38">c</text>
<text x="1515.5" y="143" text-anchor="middle" font-size="48">****</text>
</g>
</svg>
</body></html>
